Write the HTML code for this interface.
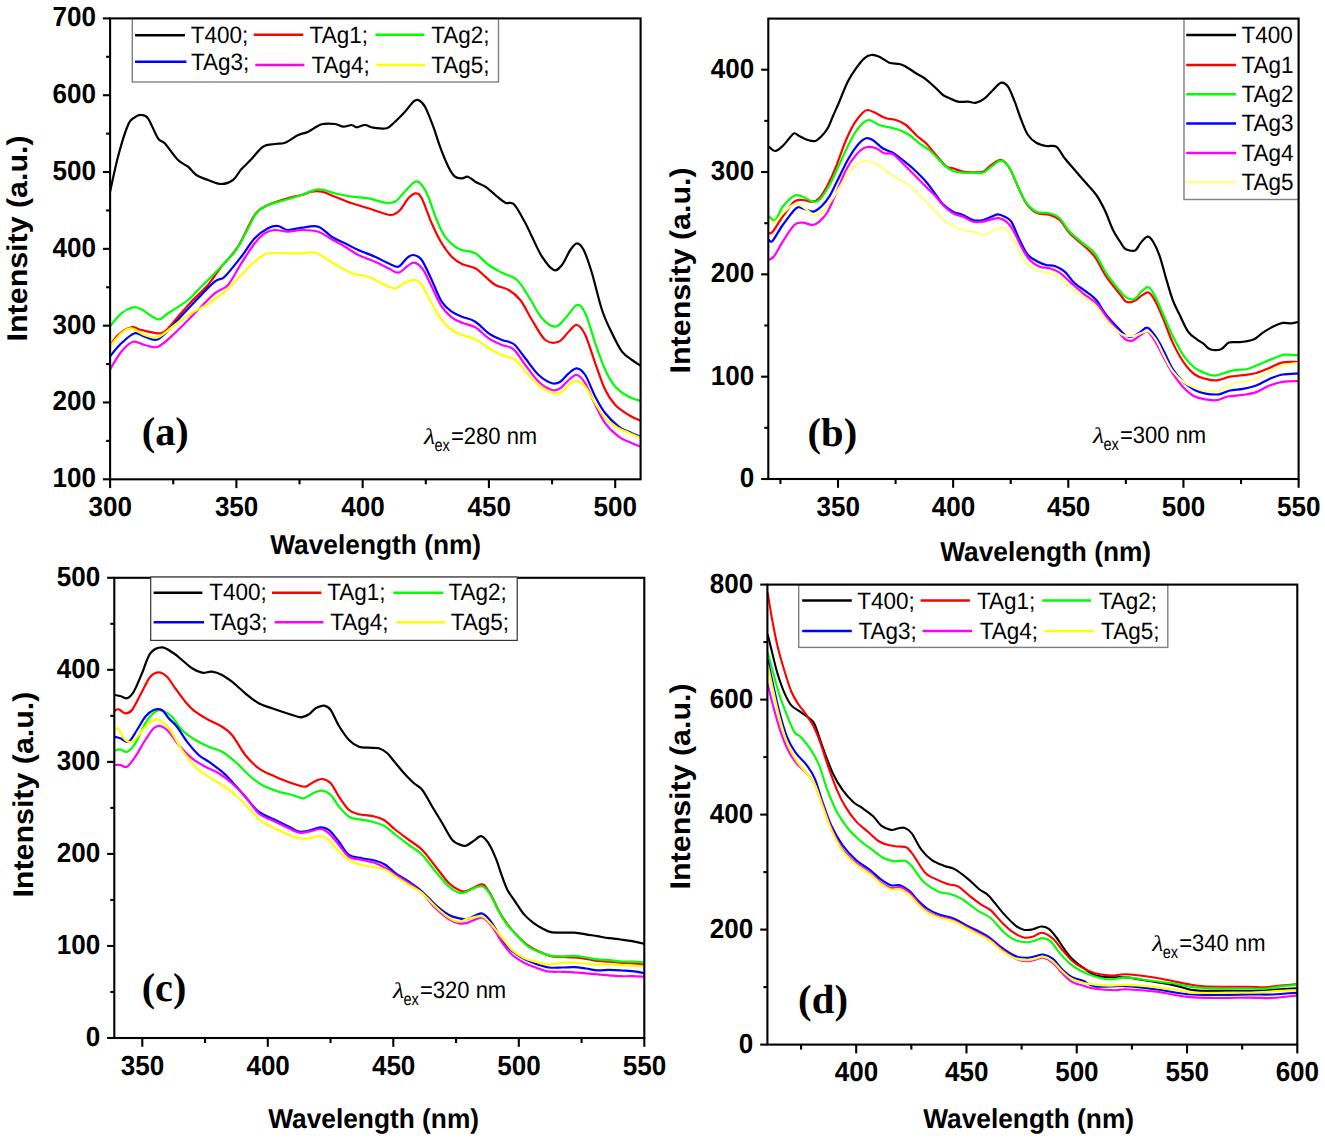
<!DOCTYPE html>
<html><head><meta charset="utf-8"><style>
html,body{margin:0;padding:0;background:#fff;width:1325px;height:1138px;overflow:hidden}
svg{display:block}
text{text-rendering:geometricPrecision}
</style></head><body>
<svg width="1325" height="1138" viewBox="0 0 1325 1138">
<rect width="1325" height="1138" fill="#fff"/>
<clipPath id="ca"><rect x="110.1" y="18.4" width="530.5" height="460.90000000000003"/></clipPath>
<g clip-path="url(#ca)" fill="none" stroke-linejoin="round" stroke-linecap="round">
<path d="M109.7,193.3 C111.1,187.2 115.0,168.1 118.0,156.7 C121.0,145.3 125.2,131.6 128.0,125.0 C130.8,118.4 132.5,119.0 134.7,117.3 C136.9,115.6 139.1,114.8 141.3,115.0 C143.5,115.2 145.2,114.4 148.0,118.3 C150.8,122.2 155.2,134.1 158.0,138.3 C160.8,142.5 161.4,139.7 164.7,143.3 C168.0,146.9 174.1,156.1 178.0,160.0 C181.9,163.9 184.9,164.2 188.0,166.7 C191.1,169.2 193.0,172.8 196.3,175.0 C199.6,177.2 203.8,178.5 208.0,180.0 C212.2,181.5 217.1,184.0 221.3,184.0 C225.5,184.0 229.7,182.4 233.0,180.0 C236.3,177.6 238.2,172.8 241.3,169.3 C244.4,165.9 247.7,163.1 251.3,159.3 C254.9,155.5 259.1,149.2 263.0,146.7 C266.9,144.1 271.0,144.7 274.7,144.0 C278.4,143.3 281.1,144.2 285.0,142.7 C288.9,141.2 294.4,136.8 298.3,135.0 C302.2,133.2 304.4,133.5 308.3,131.7 C312.2,129.9 317.2,125.6 321.7,124.3 C326.1,123.0 331.4,123.6 335.0,124.0 C338.6,124.4 340.5,126.5 343.3,126.7 C346.1,126.9 349.5,124.9 351.7,125.0 C353.9,125.1 354.5,127.3 356.7,127.3 C358.9,127.3 362.2,124.9 365.0,125.0 C367.8,125.1 369.7,127.2 373.3,127.7 C376.9,128.2 383.1,129.3 386.7,128.3 C390.3,127.3 391.9,124.5 395.0,121.7 C398.1,118.9 401.9,115.0 405.0,111.7 C408.1,108.4 411.1,103.7 413.3,101.7 C415.5,99.8 416.4,99.2 418.3,100.0 C420.2,100.8 422.5,102.2 425.0,106.7 C427.5,111.2 430.8,120.0 433.3,126.7 C435.8,133.4 437.5,140.0 440.0,146.7 C442.5,153.4 445.8,161.7 448.3,166.7 C450.8,171.7 452.7,174.8 455.0,176.7 C457.3,178.6 459.8,178.3 462.0,178.3 C464.2,178.3 465.8,176.1 468.0,176.7 C470.2,177.3 472.4,180.0 475.3,181.7 C478.2,183.4 482.0,184.5 485.3,186.7 C488.6,188.9 492.0,192.3 495.3,195.0 C498.6,197.7 502.2,201.2 505.3,202.7 C508.4,204.2 510.6,201.1 513.7,204.0 C516.8,206.9 520.7,214.6 523.7,220.0 C526.8,225.4 529.0,230.6 532.0,236.7 C535.0,242.8 538.4,251.1 542.0,256.7 C545.6,262.2 550.4,268.6 553.7,270.0 C557.0,271.4 559.2,268.3 562.0,265.0 C564.8,261.7 567.8,253.6 570.3,250.0 C572.8,246.4 574.8,243.3 577.0,243.3 C579.2,243.3 581.2,245.0 583.7,250.0 C586.2,255.0 589.0,263.3 592.0,273.3 C595.0,283.3 598.7,300.0 602.0,310.0 C605.3,320.0 608.7,326.4 612.0,333.3 C615.3,340.2 618.7,347.2 622.0,351.7 C625.3,356.1 628.8,357.6 632.0,360.0 C635.2,362.4 639.5,365.0 641.0,366.0" stroke="#000000" stroke-width="2.2"/>
<path d="M109.7,346.7 C111.1,344.8 114.4,338.2 118.0,335.0 C121.6,331.8 127.4,328.1 131.3,327.3 C135.2,326.5 136.9,329.0 141.3,330.0 C145.8,331.0 153.8,333.3 158.0,333.3 C162.2,333.3 163.0,332.8 166.3,330.0 C169.6,327.2 173.8,321.4 178.0,316.7 C182.2,312.0 186.3,307.0 191.3,301.7 C196.3,296.4 203.0,290.8 208.0,285.0 C213.0,279.2 216.3,273.1 221.3,266.7 C226.3,260.3 232.4,255.3 238.0,246.7 C243.6,238.1 249.7,221.9 254.7,215.0 C259.7,208.1 262.5,207.8 268.0,205.0 C273.5,202.2 282.1,200.0 287.7,198.3 C293.3,196.6 297.7,196.1 301.7,195.0 C305.7,193.9 308.4,192.2 311.7,191.7 C315.0,191.1 317.8,190.9 321.7,191.7 C325.6,192.5 330.0,194.8 335.0,196.7 C340.0,198.6 346.1,201.4 351.7,203.3 C357.2,205.2 363.3,206.7 368.3,208.3 C373.3,209.9 377.8,211.6 381.7,212.7 C385.6,213.8 388.6,215.4 391.7,215.0 C394.8,214.6 397.2,212.8 400.0,210.0 C402.8,207.2 405.7,201.1 408.3,198.3 C410.9,195.5 413.5,193.3 415.7,193.3 C417.9,193.3 419.0,193.3 421.7,198.3 C424.4,203.3 428.4,215.8 431.7,223.3 C435.0,230.8 438.4,237.7 441.7,243.3 C445.0,248.9 448.3,253.2 451.7,256.7 C455.1,260.1 458.1,262.1 462.0,264.0 C465.9,265.9 471.4,266.2 475.3,268.3 C479.2,270.4 482.0,273.9 485.3,276.7 C488.6,279.5 491.4,282.8 495.3,285.0 C499.2,287.2 504.5,287.5 508.7,290.0 C512.9,292.5 516.4,295.0 520.3,300.0 C524.2,305.0 527.8,313.3 532.0,320.0 C536.2,326.7 540.8,336.4 545.3,340.0 C549.8,343.6 554.8,343.1 558.7,341.7 C562.6,340.3 565.7,334.5 568.7,331.7 C571.8,328.9 574.2,324.4 577.0,325.0 C579.8,325.6 582.2,328.6 585.3,335.0 C588.3,341.4 592.0,354.1 595.3,363.3 C598.6,372.5 602.0,383.1 605.3,390.0 C608.6,396.9 611.4,400.8 615.3,405.0 C619.2,409.2 624.4,412.3 628.7,415.0 C633.0,417.7 639.0,420.0 641.0,421.0" stroke="#ff0000" stroke-width="2.2"/>
<path d="M109.7,326.7 C111.6,324.5 117.4,316.5 121.3,313.3 C125.2,310.1 129.7,308.0 133.0,307.3 C136.3,306.6 137.1,307.3 141.3,309.3 C145.5,311.3 153.6,318.6 158.0,319.3 C162.4,320.0 163.0,316.5 168.0,313.3 C173.0,310.1 183.0,303.9 188.0,300.0 C193.0,296.1 193.6,294.4 198.0,290.0 C202.4,285.6 208.6,279.7 214.7,273.3 C220.8,266.9 229.7,258.1 234.7,251.7 C239.7,245.3 241.1,241.4 244.7,235.0 C248.3,228.6 252.4,218.3 256.3,213.3 C260.2,208.3 262.8,207.3 268.0,205.0 C273.2,202.7 282.1,201.0 287.7,199.3 C293.3,197.6 296.6,196.7 301.7,195.0 C306.8,193.3 312.8,189.6 318.3,189.3 C323.9,189.0 329.4,192.1 335.0,193.3 C340.6,194.5 346.1,195.9 351.7,196.7 C357.2,197.5 362.8,197.3 368.3,198.3 C373.9,199.3 380.6,202.1 385.0,202.7 C389.4,203.3 391.9,203.3 395.0,201.7 C398.1,200.1 400.0,196.6 403.3,193.3 C406.6,190.0 411.9,183.1 415.0,181.7 C418.1,180.3 419.5,182.5 421.7,185.0 C423.9,187.5 425.8,190.9 428.3,196.7 C430.8,202.5 433.9,213.3 436.7,220.0 C439.5,226.7 441.9,232.2 445.0,236.7 C448.1,241.1 452.2,244.5 455.0,246.7 C457.8,248.9 458.6,248.9 462.0,250.0 C465.4,251.1 470.9,250.8 475.3,253.3 C479.8,255.8 484.2,261.8 488.7,265.0 C493.1,268.2 497.3,270.2 502.0,272.7 C506.7,275.2 512.5,276.0 517.0,280.0 C521.5,284.0 524.5,290.3 528.7,296.7 C532.9,303.1 537.6,313.3 542.0,318.3 C546.4,323.3 551.4,326.7 555.3,326.7 C559.2,326.7 561.7,321.9 565.3,318.3 C568.9,314.7 573.7,305.8 577.0,305.0 C580.3,304.2 582.2,306.9 585.3,313.3 C588.3,319.7 592.0,333.9 595.3,343.3 C598.6,352.8 602.0,362.8 605.3,370.0 C608.6,377.2 611.4,382.2 615.3,386.7 C619.2,391.1 624.4,394.3 628.7,396.7 C633.0,399.1 639.0,400.3 641.0,401.0" stroke="#00ff00" stroke-width="2.2"/>
<path d="M109.7,356.7 C111.6,354.5 117.1,347.2 121.3,343.3 C125.5,339.4 130.8,334.4 134.7,333.3 C138.6,332.2 140.8,335.7 144.7,336.7 C148.6,337.7 153.0,341.5 158.0,339.3 C163.0,337.1 168.6,329.6 174.7,323.3 C180.8,317.0 188.0,308.6 194.7,301.7 C201.4,294.8 209.7,285.9 214.7,281.7 C219.7,277.5 220.3,280.9 224.7,276.7 C229.1,272.5 236.3,263.1 241.3,256.7 C246.3,250.3 250.2,243.0 254.7,238.3 C259.1,233.6 264.1,230.4 268.0,228.3 C271.9,226.2 274.7,225.7 278.0,226.0 C281.3,226.3 283.8,229.7 287.7,230.0 C291.6,230.3 296.6,228.2 301.7,227.7 C306.8,227.1 313.3,225.2 318.3,226.7 C323.3,228.2 327.2,233.9 331.7,236.7 C336.1,239.5 340.6,241.1 345.0,243.3 C349.4,245.5 353.3,247.8 358.3,250.0 C363.3,252.2 370.0,254.5 375.0,256.7 C380.0,258.9 384.4,261.6 388.3,263.3 C392.2,265.0 395.2,267.5 398.3,266.7 C401.4,265.9 404.2,260.2 406.7,258.3 C409.2,256.4 410.8,254.7 413.3,255.0 C415.8,255.3 418.6,255.8 421.7,260.0 C424.8,264.2 428.4,273.1 431.7,280.0 C435.0,286.9 438.4,296.4 441.7,301.7 C445.0,307.0 448.3,309.2 451.7,311.7 C455.1,314.2 458.1,315.0 462.0,316.7 C465.9,318.4 470.9,318.9 475.3,321.7 C479.8,324.5 484.2,330.2 488.7,333.3 C493.1,336.4 497.8,338.2 502.0,340.0 C506.2,341.8 509.8,340.9 513.7,344.0 C517.6,347.1 521.1,353.1 525.3,358.3 C529.5,363.5 534.2,370.8 538.7,375.0 C543.2,379.2 548.4,382.2 552.0,383.3 C555.6,384.4 557.5,383.4 560.3,381.7 C563.1,380.0 565.9,375.5 568.7,373.3 C571.5,371.1 574.2,368.0 577.0,368.3 C579.8,368.6 582.2,370.3 585.3,375.0 C588.3,379.7 592.0,390.3 595.3,396.7 C598.6,403.1 601.4,408.3 605.3,413.3 C609.2,418.3 614.8,423.6 618.7,426.7 C622.6,429.8 625.0,430.0 628.7,431.7 C632.4,433.4 639.0,436.1 641.0,437.0" stroke="#0000ff" stroke-width="2.2"/>
<path d="M109.7,370.0 C111.6,366.9 117.4,356.4 121.3,351.7 C125.2,347.0 129.1,342.8 133.0,341.7 C136.9,340.6 140.5,344.2 144.7,345.0 C148.9,345.8 153.0,348.6 158.0,346.7 C163.0,344.8 168.6,338.9 174.7,333.3 C180.8,327.7 188.0,320.0 194.7,313.3 C201.4,306.6 209.1,298.0 214.7,293.3 C220.2,288.6 223.6,290.0 228.0,285.0 C232.4,280.0 236.9,270.2 241.3,263.3 C245.8,256.4 250.8,248.3 254.7,243.3 C258.6,238.3 261.4,235.5 264.7,233.3 C268.0,231.1 270.9,230.3 274.7,230.0 C278.5,229.7 283.2,231.7 287.7,231.7 C292.2,231.7 296.6,230.0 301.7,230.0 C306.8,230.0 313.3,230.1 318.3,231.7 C323.3,233.2 327.2,236.8 331.7,239.3 C336.1,241.8 340.6,244.1 345.0,246.7 C349.4,249.3 353.3,252.5 358.3,255.0 C363.3,257.5 370.0,259.5 375.0,261.7 C380.0,263.9 384.4,266.5 388.3,268.3 C392.2,270.1 395.2,273.0 398.3,272.7 C401.4,272.4 404.0,268.4 406.7,266.7 C409.4,265.0 411.5,262.1 414.3,262.7 C417.1,263.2 420.4,266.0 423.3,270.0 C426.2,274.0 428.6,280.6 431.7,286.7 C434.8,292.8 438.4,301.6 441.7,306.7 C445.0,311.8 448.3,314.6 451.7,317.3 C455.1,320.0 458.1,321.0 462.0,322.7 C465.9,324.4 470.9,324.7 475.3,327.3 C479.8,329.9 484.2,335.4 488.7,338.3 C493.1,341.2 497.8,343.2 502.0,345.0 C506.2,346.8 509.8,346.0 513.7,349.3 C517.6,352.6 521.1,359.6 525.3,365.0 C529.5,370.4 534.2,377.5 538.7,381.7 C543.2,385.9 548.4,388.9 552.0,390.0 C555.6,391.1 557.5,390.0 560.3,388.3 C563.1,386.6 565.9,382.2 568.7,380.0 C571.5,377.8 574.2,374.4 577.0,375.0 C579.8,375.6 582.2,378.3 585.3,383.3 C588.3,388.3 592.0,398.3 595.3,405.0 C598.6,411.7 601.4,418.0 605.3,423.3 C609.2,428.6 614.8,433.6 618.7,436.7 C622.6,439.8 625.0,440.0 628.7,441.7 C632.4,443.4 639.0,446.1 641.0,447.0" stroke="#ff00ff" stroke-width="2.2"/>
<path d="M109.7,346.7 C111.6,344.5 117.7,336.4 121.3,333.3 C124.9,330.2 127.4,328.0 131.3,328.3 C135.2,328.6 140.2,333.5 144.7,335.0 C149.1,336.5 153.0,339.0 158.0,337.3 C163.0,335.6 169.1,329.0 174.7,325.0 C180.2,321.0 185.8,316.8 191.3,313.3 C196.9,309.8 202.4,307.6 208.0,304.0 C213.6,300.4 219.1,296.5 224.7,291.7 C230.2,286.9 236.3,280.0 241.3,275.0 C246.3,270.0 250.2,265.3 254.7,261.7 C259.1,258.1 262.5,254.7 268.0,253.3 C273.5,251.9 282.1,253.3 287.7,253.3 C293.3,253.3 297.1,253.4 301.7,253.3 C306.2,253.2 310.6,251.6 315.0,252.7 C319.4,253.8 323.9,257.4 328.3,260.0 C332.8,262.6 337.2,265.9 341.7,268.3 C346.1,270.7 350.6,272.9 355.0,274.3 C359.4,275.7 363.9,275.2 368.3,276.7 C372.8,278.2 377.2,281.4 381.7,283.3 C386.1,285.2 391.1,288.4 395.0,288.3 C398.9,288.2 401.7,284.1 405.0,282.7 C408.3,281.3 412.2,279.6 415.0,280.0 C417.8,280.4 418.9,281.1 421.7,285.0 C424.5,288.9 428.4,297.5 431.7,303.3 C435.0,309.1 438.4,315.6 441.7,320.0 C445.0,324.4 448.3,327.5 451.7,330.0 C455.1,332.5 458.1,333.4 462.0,335.0 C465.9,336.6 470.9,337.1 475.3,339.3 C479.8,341.5 484.2,345.7 488.7,348.3 C493.1,350.9 497.6,353.1 502.0,355.0 C506.4,356.9 511.1,356.9 515.3,360.0 C519.5,363.1 522.8,368.9 527.0,373.3 C531.2,377.8 535.8,383.4 540.3,386.7 C544.8,390.0 550.1,392.5 553.7,393.3 C557.3,394.1 559.2,393.4 562.0,391.7 C564.8,390.0 567.8,385.1 570.3,383.3 C572.8,381.5 574.5,380.4 577.0,381.0 C579.5,381.6 582.2,383.0 585.3,386.7 C588.3,390.4 592.0,398.0 595.3,403.3 C598.6,408.6 601.4,414.1 605.3,418.3 C609.2,422.5 614.8,425.9 618.7,428.3 C622.6,430.7 625.0,431.1 628.7,432.7 C632.4,434.3 639.0,437.1 641.0,438.0" stroke="#ffff00" stroke-width="2.2"/>
</g>
<line x1="110.10" y1="479.30" x2="110.10" y2="488.10" stroke="#000" stroke-width="2.1" stroke-linecap="butt"/>
<text transform="translate(88.61 515.90) scale(0.94 1)" font-family="Liberation Sans" font-size="27.7" font-weight="bold">300</text>
<line x1="236.38" y1="479.30" x2="236.38" y2="488.10" stroke="#000" stroke-width="2.1" stroke-linecap="butt"/>
<text transform="translate(214.89 515.90) scale(0.94 1)" font-family="Liberation Sans" font-size="27.7" font-weight="bold">350</text>
<line x1="362.65" y1="479.30" x2="362.65" y2="488.10" stroke="#000" stroke-width="2.1" stroke-linecap="butt"/>
<text transform="translate(341.27 515.90) scale(0.94 1)" font-family="Liberation Sans" font-size="27.7" font-weight="bold">400</text>
<line x1="488.92" y1="479.30" x2="488.92" y2="488.10" stroke="#000" stroke-width="2.1" stroke-linecap="butt"/>
<text transform="translate(467.54 515.90) scale(0.94 1)" font-family="Liberation Sans" font-size="27.7" font-weight="bold">450</text>
<line x1="615.20" y1="479.30" x2="615.20" y2="488.10" stroke="#000" stroke-width="2.1" stroke-linecap="butt"/>
<text transform="translate(593.61 515.90) scale(0.94 1)" font-family="Liberation Sans" font-size="27.7" font-weight="bold">500</text>
<line x1="173.24" y1="479.30" x2="173.24" y2="484.30" stroke="#000" stroke-width="2.1" stroke-linecap="butt"/>
<line x1="299.51" y1="479.30" x2="299.51" y2="484.30" stroke="#000" stroke-width="2.1" stroke-linecap="butt"/>
<line x1="425.79" y1="479.30" x2="425.79" y2="484.30" stroke="#000" stroke-width="2.1" stroke-linecap="butt"/>
<line x1="552.06" y1="479.30" x2="552.06" y2="484.30" stroke="#000" stroke-width="2.1" stroke-linecap="butt"/>
<line x1="102.90" y1="479.30" x2="110.10" y2="479.30" stroke="#000" stroke-width="2.1" stroke-linecap="butt"/>
<text transform="translate(52.52 487.30) scale(0.94 1)" font-family="Liberation Sans" font-size="27.7" font-weight="bold">100</text>
<line x1="102.90" y1="402.48" x2="110.10" y2="402.48" stroke="#000" stroke-width="2.1" stroke-linecap="butt"/>
<text transform="translate(52.52 410.48) scale(0.94 1)" font-family="Liberation Sans" font-size="27.7" font-weight="bold">200</text>
<line x1="102.90" y1="325.67" x2="110.10" y2="325.67" stroke="#000" stroke-width="2.1" stroke-linecap="butt"/>
<text transform="translate(52.52 333.67) scale(0.94 1)" font-family="Liberation Sans" font-size="27.7" font-weight="bold">300</text>
<line x1="102.90" y1="248.85" x2="110.10" y2="248.85" stroke="#000" stroke-width="2.1" stroke-linecap="butt"/>
<text transform="translate(52.52 256.85) scale(0.94 1)" font-family="Liberation Sans" font-size="27.7" font-weight="bold">400</text>
<line x1="102.90" y1="172.03" x2="110.10" y2="172.03" stroke="#000" stroke-width="2.1" stroke-linecap="butt"/>
<text transform="translate(52.52 180.03) scale(0.94 1)" font-family="Liberation Sans" font-size="27.7" font-weight="bold">500</text>
<line x1="102.90" y1="95.22" x2="110.10" y2="95.22" stroke="#000" stroke-width="2.1" stroke-linecap="butt"/>
<text transform="translate(52.52 103.22) scale(0.94 1)" font-family="Liberation Sans" font-size="27.7" font-weight="bold">600</text>
<line x1="102.90" y1="18.40" x2="110.10" y2="18.40" stroke="#000" stroke-width="2.1" stroke-linecap="butt"/>
<text transform="translate(52.52 26.40) scale(0.94 1)" font-family="Liberation Sans" font-size="27.7" font-weight="bold">700</text>
<line x1="106.10" y1="440.89" x2="110.10" y2="440.89" stroke="#000" stroke-width="2.1" stroke-linecap="butt"/>
<line x1="106.10" y1="364.08" x2="110.10" y2="364.08" stroke="#000" stroke-width="2.1" stroke-linecap="butt"/>
<line x1="106.10" y1="287.26" x2="110.10" y2="287.26" stroke="#000" stroke-width="2.1" stroke-linecap="butt"/>
<line x1="106.10" y1="210.44" x2="110.10" y2="210.44" stroke="#000" stroke-width="2.1" stroke-linecap="butt"/>
<line x1="106.10" y1="133.62" x2="110.10" y2="133.62" stroke="#000" stroke-width="2.1" stroke-linecap="butt"/>
<line x1="106.10" y1="56.81" x2="110.10" y2="56.81" stroke="#000" stroke-width="2.1" stroke-linecap="butt"/>
<rect x="132.3" y="18.4" width="366.2" height="63.6" fill="#fff" stroke="#808080" stroke-width="1.4"/>
<rect x="110.1" y="18.4" width="530.5" height="460.90000000000003" fill="none" stroke="#000" stroke-width="2.1"/>
<line x1="135.00" y1="35.20" x2="185.00" y2="35.20" stroke="#000000" stroke-width="2.5" stroke-linecap="butt"/>
<text transform="translate(190.79 43.20) scale(0.945 1)" font-family="Liberation Sans" font-size="23.8" font-weight="normal">T400;</text>
<line x1="253.70" y1="34.80" x2="303.20" y2="34.80" stroke="#ff0000" stroke-width="2.5" stroke-linecap="butt"/>
<text transform="translate(309.59 43.20) scale(0.945 1)" font-family="Liberation Sans" font-size="23.8" font-weight="normal">TAg1;</text>
<line x1="375.40" y1="34.80" x2="424.50" y2="34.80" stroke="#00ff00" stroke-width="2.5" stroke-linecap="butt"/>
<text transform="translate(431.19 43.20) scale(0.945 1)" font-family="Liberation Sans" font-size="23.8" font-weight="normal">TAg2;</text>
<line x1="135.00" y1="61.70" x2="186.40" y2="61.70" stroke="#0000ff" stroke-width="2.5" stroke-linecap="butt"/>
<text transform="translate(190.99 69.60) scale(0.945 1)" font-family="Liberation Sans" font-size="23.8" font-weight="normal">TAg3;</text>
<line x1="255.30" y1="65.10" x2="304.40" y2="65.10" stroke="#ff00ff" stroke-width="2.5" stroke-linecap="butt"/>
<text transform="translate(311.49 73.00) scale(0.945 1)" font-family="Liberation Sans" font-size="23.8" font-weight="normal">TAg4;</text>
<line x1="376.40" y1="65.10" x2="425.40" y2="65.10" stroke="#ffff00" stroke-width="2.5" stroke-linecap="butt"/>
<text transform="translate(431.29 73.00) scale(0.945 1)" font-family="Liberation Sans" font-size="23.8" font-weight="normal">TAg5;</text>
<text transform="translate(270.27 554.00) scale(0.96 1)" font-family="Liberation Sans" font-size="27.4" font-weight="bold">Wavelength (nm)</text>
<text transform="translate(26.90 238.40) scale(0.94 1) rotate(-90)" font-family="Liberation Sans" font-size="30.4" font-weight="bold" text-anchor="middle">Intensity (a.u.)</text>
<text transform="translate(141.72 444.60) scale(1.0 1)" font-family="Liberation Serif" font-size="40.4" font-weight="bold">(a)</text>
<text transform="translate(424.03 444.10) scale(1.15 1)" font-family="Liberation Serif" font-size="22.5" font-weight="normal" font-style="italic">λ</text>
<text transform="translate(434.38 450.70) scale(0.83 1)" font-family="Liberation Sans" font-size="17.5" font-weight="normal">ex</text>
<text transform="translate(450.93 444.10) scale(0.925 1)" font-family="Liberation Sans" font-size="23.8" font-weight="normal">=280 nm</text>
<clipPath id="cb"><rect x="768.3" y="18.6" width="530.3" height="460.4"/></clipPath>
<g clip-path="url(#cb)" fill="none" stroke-linejoin="round" stroke-linecap="round">
<path d="M768.7,146.7 C769.8,147.4 773.0,151.1 775.3,151.0 C777.6,150.9 780.4,148.1 782.7,146.0 C785.0,143.9 787.4,140.4 789.3,138.3 C791.2,136.2 792.6,133.7 794.3,133.3 C796.0,132.9 797.1,134.9 799.3,136.0 C801.5,137.1 805.0,139.2 807.7,140.0 C810.4,140.8 813.1,141.6 815.3,141.0 C817.5,140.4 818.9,138.8 821.0,136.7 C823.1,134.6 825.8,131.6 827.7,128.3 C829.7,125.0 830.8,121.1 832.7,116.7 C834.6,112.3 836.8,107.5 839.3,101.7 C841.8,95.9 844.9,87.3 847.7,81.7 C850.5,76.1 853.2,72.2 856.0,68.3 C858.8,64.4 861.8,60.5 864.3,58.3 C866.8,56.1 868.5,55.3 871.0,55.0 C873.5,54.7 876.2,55.4 879.3,56.7 C882.3,58.0 886.0,61.5 889.3,62.7 C892.6,63.9 896.5,63.3 899.3,64.0 C902.1,64.7 903.2,65.2 906.0,66.7 C908.8,68.2 912.7,71.2 916.0,73.3 C919.3,75.4 922.7,76.8 926.0,79.3 C929.3,81.8 933.2,85.7 936.0,88.3 C938.8,90.9 940.7,93.3 943.0,95.0 C945.3,96.7 947.2,97.2 949.7,98.3 C952.2,99.4 955.0,101.1 958.0,101.7 C961.0,102.3 965.0,101.5 968.0,101.7 C971.0,101.9 973.5,103.3 976.3,102.7 C979.1,102.1 981.9,100.4 984.7,98.3 C987.5,96.2 990.2,92.6 993.0,90.0 C995.8,87.4 998.8,83.2 1001.3,82.7 C1003.8,82.2 1005.8,83.5 1008.0,86.7 C1010.2,89.9 1012.5,96.2 1014.7,101.7 C1016.9,107.2 1019.1,114.5 1021.3,120.0 C1023.5,125.5 1025.5,131.2 1028.0,135.0 C1030.5,138.8 1033.2,140.9 1036.3,142.7 C1039.3,144.5 1043.0,145.3 1046.3,146.0 C1049.6,146.7 1053.2,144.6 1056.3,146.7 C1059.4,148.8 1061.6,154.4 1064.7,158.3 C1067.8,162.2 1071.1,165.8 1074.7,170.0 C1078.3,174.2 1082.7,179.1 1086.3,183.3 C1089.9,187.5 1093.2,190.6 1096.3,195.0 C1099.4,199.4 1101.9,204.2 1104.7,210.0 C1107.5,215.8 1110.5,224.8 1113.0,230.0 C1115.5,235.2 1118.1,238.5 1120.0,241.5 C1121.9,244.5 1122.9,246.6 1124.4,248.1 C1125.9,249.6 1127.0,249.9 1128.8,250.3 C1130.6,250.7 1133.4,251.6 1135.4,250.3 C1137.4,249.0 1138.9,244.9 1140.9,242.6 C1142.9,240.3 1145.5,236.9 1147.5,236.7 C1149.5,236.5 1151.0,238.3 1153.0,241.5 C1155.0,244.7 1157.4,249.6 1159.6,255.8 C1161.8,262.0 1164.0,271.6 1166.2,278.9 C1168.4,286.2 1170.5,293.9 1172.7,299.8 C1174.9,305.7 1176.7,308.8 1179.3,314.1 C1181.9,319.4 1185.2,327.4 1188.1,331.6 C1191.0,335.8 1194.3,337.3 1196.9,339.3 C1199.5,341.3 1201.3,342.1 1203.5,343.7 C1205.7,345.3 1207.2,348.3 1210.1,349.2 C1213.0,350.1 1218.0,350.3 1221.1,349.2 C1224.2,348.1 1225.9,343.8 1228.8,342.6 C1231.7,341.4 1236.0,342.4 1238.7,342.2 C1241.5,342.0 1242.7,342.0 1245.3,341.5 C1247.9,341.0 1251.2,340.8 1254.1,339.3 C1257.0,337.8 1259.6,334.9 1262.9,332.7 C1266.2,330.5 1270.5,327.8 1273.8,326.2 C1277.1,324.6 1279.7,323.4 1282.6,322.9 C1285.5,322.4 1288.7,323.5 1291.4,323.3 C1294.1,323.1 1297.7,322.1 1299.0,321.8" stroke="#000000" stroke-width="2.2"/>
<path d="M768.7,233.3 C769.4,233.0 770.4,234.5 772.7,231.7 C775.0,228.9 779.1,221.7 782.7,216.7 C786.3,211.7 791.0,204.5 794.3,201.7 C797.6,198.9 799.6,200.0 802.7,200.0 C805.8,200.0 809.9,202.0 812.7,201.7 C815.5,201.4 816.8,201.1 819.3,198.3 C821.8,195.5 824.9,190.3 827.7,185.0 C830.5,179.7 833.0,174.2 836.0,166.7 C839.0,159.2 843.0,147.2 846.0,140.0 C849.0,132.8 851.5,127.8 854.3,123.3 C857.1,118.8 860.5,114.9 862.7,112.7 C864.9,110.5 865.5,109.9 867.7,110.0 C869.9,110.1 873.0,111.9 876.0,113.3 C879.0,114.7 882.7,117.2 886.0,118.3 C889.3,119.4 892.7,118.9 896.0,120.0 C899.3,121.1 902.7,122.5 906.0,125.0 C909.3,127.5 912.7,131.9 916.0,135.0 C919.3,138.1 922.7,140.0 926.0,143.3 C929.3,146.6 932.7,151.2 936.0,155.0 C939.3,158.8 942.9,163.8 945.7,166.0 C948.5,168.2 950.1,167.4 953.0,168.3 C955.9,169.2 959.7,171.0 963.0,171.7 C966.3,172.4 969.7,172.3 973.0,172.3 C976.3,172.3 980.0,172.9 983.0,171.7 C986.0,170.5 988.2,166.9 991.3,165.0 C994.3,163.1 998.2,159.4 1001.3,160.0 C1004.4,160.6 1006.9,163.9 1009.7,168.3 C1012.5,172.8 1015.2,180.9 1018.0,186.7 C1020.8,192.5 1023.2,199.0 1026.3,203.3 C1029.3,207.6 1032.4,210.8 1036.3,212.7 C1040.2,214.6 1045.8,213.8 1049.7,215.0 C1053.6,216.2 1056.4,216.9 1059.7,220.0 C1063.0,223.1 1065.8,229.1 1069.7,233.3 C1073.6,237.5 1078.8,241.1 1083.0,245.0 C1087.2,248.9 1090.8,251.4 1094.7,256.7 C1098.6,262.0 1102.1,270.4 1106.3,276.7 C1110.5,283.0 1116.6,290.1 1120.0,294.3 C1123.4,298.5 1124.2,300.9 1126.6,302.0 C1129.0,303.1 1131.7,302.0 1134.3,300.9 C1136.9,299.8 1139.6,296.8 1142.0,295.4 C1144.4,294.0 1146.4,291.6 1148.6,292.5 C1150.8,293.4 1152.6,296.2 1155.2,300.9 C1157.8,305.6 1161.1,313.8 1164.0,320.7 C1166.9,327.6 1169.4,335.7 1172.7,342.6 C1176.0,349.6 1180.0,357.1 1183.7,362.4 C1187.4,367.7 1191.0,371.8 1194.7,374.5 C1198.4,377.2 1202.0,377.9 1205.7,378.9 C1209.4,379.9 1212.7,380.8 1216.7,380.4 C1220.7,380.0 1225.5,377.6 1229.9,376.7 C1234.3,375.8 1238.7,375.8 1243.1,375.2 C1247.5,374.6 1251.9,374.2 1256.3,373.0 C1260.7,371.8 1265.1,369.7 1269.5,367.9 C1273.9,366.1 1277.7,363.4 1282.6,362.4 C1287.5,361.4 1296.3,362.1 1299.0,362.0" stroke="#ff0000" stroke-width="2.2"/>
<path d="M768.7,216.0 C769.8,216.7 773.0,221.6 775.3,220.0 C777.6,218.4 779.5,210.8 782.7,206.7 C785.9,202.6 791.0,197.4 794.3,195.7 C797.6,194.0 799.6,195.7 802.7,196.7 C805.8,197.7 809.9,201.1 812.7,201.7 C815.5,202.2 816.8,202.2 819.3,200.0 C821.8,197.8 824.9,193.0 827.7,188.3 C830.5,183.6 833.0,178.1 836.0,171.7 C839.0,165.3 843.0,156.3 846.0,150.0 C849.0,143.7 851.5,138.4 854.3,134.0 C857.1,129.6 860.2,125.6 862.7,123.3 C865.2,121.0 866.5,119.7 869.3,120.0 C872.1,120.3 876.0,123.8 879.3,125.0 C882.6,126.2 886.0,126.5 889.3,127.3 C892.6,128.1 896.0,128.7 899.3,130.0 C902.6,131.3 906.0,132.8 909.3,135.0 C912.6,137.2 916.0,140.8 919.3,143.3 C922.6,145.8 926.0,147.2 929.3,150.0 C932.6,152.8 936.6,157.2 939.3,160.0 C942.0,162.8 943.4,164.7 945.7,166.5 C948.0,168.3 950.1,170.0 953.0,171.0 C955.9,172.0 959.7,172.4 963.0,172.7 C966.3,173.0 969.7,172.7 973.0,172.7 C976.3,172.7 980.0,173.7 983.0,172.7 C986.0,171.7 988.2,168.7 991.3,166.7 C994.3,164.7 998.2,160.4 1001.3,160.7 C1004.4,161.0 1006.9,164.0 1009.7,168.3 C1012.5,172.6 1015.2,181.0 1018.0,186.7 C1020.8,192.4 1023.2,198.5 1026.3,202.7 C1029.3,206.9 1032.4,209.9 1036.3,211.7 C1040.2,213.5 1045.8,212.2 1049.7,213.3 C1053.6,214.4 1056.4,215.2 1059.7,218.3 C1063.0,221.4 1065.8,227.5 1069.7,231.7 C1073.6,235.9 1078.8,239.7 1083.0,243.3 C1087.2,246.9 1090.8,248.3 1094.7,253.3 C1098.6,258.3 1102.1,267.0 1106.3,273.3 C1110.5,279.6 1116.6,286.9 1120.0,291.0 C1123.4,295.1 1124.2,296.2 1126.6,297.6 C1129.0,299.0 1131.7,300.2 1134.3,299.1 C1136.9,298.0 1139.6,293.0 1142.0,291.0 C1144.4,289.0 1146.4,286.4 1148.6,287.3 C1150.8,288.2 1152.6,291.7 1155.2,296.5 C1157.8,301.3 1161.1,309.7 1164.0,316.3 C1166.9,322.9 1169.4,329.4 1172.7,336.0 C1176.0,342.6 1180.0,350.5 1183.7,355.8 C1187.4,361.1 1191.0,365.0 1194.7,367.9 C1198.4,370.8 1202.4,372.1 1205.7,373.4 C1209.0,374.7 1211.6,375.6 1214.5,375.6 C1217.4,375.6 1220.0,374.3 1223.3,373.4 C1226.6,372.5 1230.3,370.8 1234.3,370.1 C1238.3,369.4 1243.5,369.9 1247.5,369.0 C1251.5,368.1 1254.5,366.2 1258.5,364.6 C1262.5,363.0 1267.2,360.8 1271.6,359.1 C1276.0,357.5 1280.2,355.3 1284.8,354.7 C1289.4,354.1 1296.6,355.3 1299.0,355.4" stroke="#00ff00" stroke-width="2.2"/>
<path d="M768.7,240.0 C769.4,240.1 770.4,243.2 772.7,240.7 C775.0,238.2 778.8,230.4 782.7,225.0 C786.6,219.6 792.7,211.1 796.0,208.3 C799.3,205.5 799.9,207.7 802.7,208.3 C805.5,208.9 809.7,212.0 812.7,211.7 C815.8,211.4 818.2,209.2 821.0,206.7 C823.8,204.2 826.5,201.1 829.3,196.7 C832.1,192.2 834.6,186.1 837.7,180.0 C840.8,173.9 844.4,165.8 847.7,160.0 C851.0,154.2 854.7,148.6 857.7,145.0 C860.8,141.4 863.5,139.1 866.0,138.3 C868.5,137.5 869.9,138.3 872.7,140.0 C875.5,141.7 879.4,146.2 882.7,148.3 C886.0,150.4 889.4,150.8 892.7,152.7 C896.0,154.6 899.4,157.4 902.7,160.0 C906.0,162.6 908.8,164.7 912.7,168.3 C916.6,171.9 922.1,177.2 926.0,181.7 C929.9,186.1 933.2,191.2 936.0,195.0 C938.8,198.8 940.2,201.5 943.0,204.3 C945.8,207.1 949.7,209.9 953.0,211.7 C956.3,213.5 959.7,213.6 963.0,215.0 C966.3,216.4 969.7,219.2 973.0,220.0 C976.3,220.8 980.0,220.6 983.0,220.0 C986.0,219.4 988.8,217.6 991.3,216.7 C993.8,215.8 995.8,214.3 998.0,214.3 C1000.2,214.3 1002.5,215.5 1004.7,216.7 C1006.9,217.9 1008.8,217.8 1011.3,221.7 C1013.8,225.6 1016.9,234.4 1019.7,240.0 C1022.5,245.6 1025.0,251.4 1028.0,255.0 C1031.0,258.6 1035.0,260.0 1038.0,261.7 C1041.0,263.4 1043.5,264.3 1046.3,265.0 C1049.1,265.7 1051.6,264.9 1054.7,266.0 C1057.8,267.1 1061.4,268.8 1064.7,271.7 C1068.0,274.6 1071.1,280.0 1074.7,283.3 C1078.3,286.6 1082.7,288.9 1086.3,291.7 C1089.9,294.5 1093.0,296.1 1096.3,300.0 C1099.6,303.9 1102.3,310.0 1106.3,315.0 C1110.2,320.0 1116.6,326.6 1120.0,330.1 C1123.4,333.6 1124.4,334.9 1126.6,336.0 C1128.8,337.1 1130.8,337.2 1133.2,336.5 C1135.6,335.8 1138.5,333.1 1140.9,331.6 C1143.3,330.1 1145.1,327.0 1147.5,327.7 C1149.9,328.4 1152.5,332.1 1155.2,336.0 C1158.0,339.9 1161.1,345.9 1164.0,351.4 C1166.9,356.9 1169.4,363.9 1172.7,369.0 C1176.0,374.1 1180.0,378.7 1183.7,382.2 C1187.4,385.7 1191.0,388.0 1194.7,389.9 C1198.4,391.8 1201.7,392.9 1205.7,393.6 C1209.7,394.3 1214.9,394.8 1218.9,394.3 C1222.9,393.8 1225.9,391.4 1229.9,390.5 C1233.9,389.6 1238.7,389.6 1243.1,388.8 C1247.5,388.0 1251.9,387.1 1256.3,385.5 C1260.7,383.9 1265.1,380.7 1269.5,378.9 C1273.9,377.1 1277.7,375.4 1282.6,374.5 C1287.5,373.6 1296.3,373.6 1299.0,373.4" stroke="#0000ff" stroke-width="2.2"/>
<path d="M768.7,260.0 C769.6,259.3 772.0,259.1 774.3,256.0 C776.6,252.9 779.4,246.9 782.7,241.7 C786.0,236.5 791.0,228.2 794.3,225.0 C797.6,221.8 799.6,222.7 802.7,222.7 C805.8,222.7 809.9,225.2 812.7,225.0 C815.5,224.8 816.8,223.9 819.3,221.7 C821.8,219.5 824.9,216.4 827.7,211.7 C830.5,207.0 833.0,200.2 836.0,193.3 C839.0,186.4 842.7,176.4 846.0,170.0 C849.3,163.6 852.7,158.8 856.0,155.0 C859.3,151.2 862.7,148.4 866.0,147.3 C869.3,146.2 873.0,147.3 876.0,148.3 C879.0,149.3 881.5,152.4 884.3,153.3 C887.1,154.2 889.6,152.3 892.7,154.0 C895.8,155.7 899.4,160.1 902.7,163.3 C906.0,166.5 908.8,169.4 912.7,173.3 C916.6,177.2 922.1,182.8 926.0,186.7 C929.9,190.6 933.2,193.6 936.0,196.7 C938.8,199.8 940.2,202.2 943.0,205.0 C945.8,207.8 949.7,211.4 953.0,213.3 C956.3,215.2 959.7,215.3 963.0,216.7 C966.3,218.1 969.7,220.9 973.0,221.7 C976.3,222.5 980.0,222.1 983.0,221.7 C986.0,221.3 988.5,219.9 991.3,219.3 C994.1,218.7 997.2,217.9 999.7,218.3 C1002.2,218.7 1004.1,219.8 1006.3,221.7 C1008.5,223.6 1010.5,225.8 1013.0,230.0 C1015.5,234.2 1018.5,241.7 1021.3,246.7 C1024.1,251.7 1026.6,256.7 1029.7,260.0 C1032.8,263.3 1036.4,265.3 1039.7,266.7 C1043.0,268.1 1046.4,267.3 1049.7,268.3 C1053.0,269.3 1056.4,270.5 1059.7,272.7 C1063.0,274.9 1065.8,278.3 1069.7,281.7 C1073.6,285.1 1078.6,289.7 1083.0,293.3 C1087.4,296.9 1092.4,299.4 1096.3,303.3 C1100.2,307.2 1102.3,311.6 1106.3,316.7 C1110.2,321.8 1116.6,329.9 1120.0,333.8 C1123.4,337.7 1124.4,338.9 1126.6,340.0 C1128.8,341.1 1130.8,341.2 1133.2,340.4 C1135.6,339.5 1138.5,336.4 1140.9,334.9 C1143.3,333.4 1145.1,330.5 1147.5,331.6 C1149.9,332.7 1152.5,337.1 1155.2,341.5 C1158.0,345.9 1161.1,352.7 1164.0,358.0 C1166.9,363.3 1169.4,368.4 1172.7,373.4 C1176.0,378.3 1180.0,383.8 1183.7,387.7 C1187.4,391.6 1191.0,394.6 1194.7,396.5 C1198.4,398.4 1202.0,398.7 1205.7,399.3 C1209.4,399.9 1213.0,400.7 1216.7,400.2 C1220.4,399.7 1223.3,397.4 1227.7,396.5 C1232.1,395.6 1238.3,395.6 1243.1,394.9 C1247.9,394.2 1251.9,393.7 1256.3,392.1 C1260.7,390.5 1265.1,387.2 1269.5,385.5 C1273.9,383.8 1277.7,382.5 1282.6,381.8 C1287.5,381.1 1296.3,381.2 1299.0,381.1" stroke="#ff00ff" stroke-width="2.2"/>
<path d="M768.7,220.0 C769.6,220.4 772.0,223.8 774.3,222.7 C776.6,221.6 779.4,216.4 782.7,213.3 C786.0,210.2 791.0,205.4 794.3,204.3 C797.6,203.2 799.4,204.9 802.7,206.7 C806.0,208.5 811.0,214.2 814.3,215.0 C817.6,215.8 819.6,214.5 822.7,211.7 C825.8,208.9 829.7,202.8 832.7,198.3 C835.8,193.9 838.0,189.7 841.0,185.0 C844.0,180.3 847.7,173.9 851.0,170.0 C854.3,166.1 858.0,163.1 861.0,161.7 C864.0,160.3 866.2,161.0 869.3,161.7 C872.3,162.4 876.0,164.1 879.3,166.0 C882.6,167.9 886.0,171.1 889.3,173.3 C892.6,175.5 896.0,177.4 899.3,179.3 C902.6,181.2 906.0,182.4 909.3,185.0 C912.6,187.6 916.0,191.7 919.3,195.0 C922.6,198.3 926.0,201.7 929.3,205.0 C932.6,208.3 937.0,212.5 939.3,215.0 C941.6,217.5 940.7,218.2 943.0,220.0 C945.3,221.8 949.7,224.3 953.0,226.0 C956.3,227.7 959.7,229.1 963.0,230.0 C966.3,230.9 969.7,230.9 973.0,231.7 C976.3,232.5 979.7,235.2 983.0,235.0 C986.3,234.8 989.7,232.0 993.0,230.7 C996.3,229.4 1000.2,226.9 1003.0,227.3 C1005.8,227.7 1007.2,229.8 1009.7,233.3 C1012.2,236.8 1015.2,243.3 1018.0,248.3 C1020.8,253.3 1023.2,259.7 1026.3,263.3 C1029.3,266.9 1032.4,268.3 1036.3,270.0 C1040.2,271.7 1045.8,272.1 1049.7,273.3 C1053.6,274.5 1056.4,275.1 1059.7,277.3 C1063.0,279.5 1065.8,283.5 1069.7,286.7 C1073.6,289.9 1078.6,293.4 1083.0,296.7 C1087.4,300.0 1092.4,302.8 1096.3,306.7 C1100.2,310.6 1102.3,315.6 1106.3,320.0 C1110.2,324.4 1116.2,330.7 1120.0,333.4 C1123.8,336.1 1126.2,335.6 1128.8,336.0 C1131.4,336.4 1133.2,336.2 1135.4,335.6 C1137.6,335.1 1139.8,333.4 1142.0,332.7 C1144.2,332.0 1146.2,330.3 1148.6,331.6 C1151.0,332.9 1153.7,336.4 1156.3,340.4 C1158.9,344.4 1161.3,350.7 1164.0,355.8 C1166.7,360.9 1169.4,366.8 1172.7,371.2 C1176.0,375.6 1180.0,379.4 1183.7,382.2 C1187.4,384.9 1191.0,386.2 1194.7,387.7 C1198.4,389.2 1202.0,390.4 1205.7,391.0 C1209.4,391.6 1213.0,392.3 1216.7,391.4 C1220.4,390.5 1223.7,387.0 1227.7,385.5 C1231.7,384.0 1236.1,383.3 1240.9,382.2 C1245.7,381.1 1251.5,380.7 1256.3,378.9 C1261.1,377.1 1265.1,373.4 1269.5,371.2 C1273.9,369.0 1277.7,367.1 1282.6,365.7 C1287.5,364.3 1296.3,363.4 1299.0,362.9" stroke="#ffff80" stroke-width="2.2"/>
</g>
<line x1="838.00" y1="479.00" x2="838.00" y2="487.80" stroke="#000" stroke-width="2.1" stroke-linecap="butt"/>
<text transform="translate(816.51 515.60) scale(0.94 1)" font-family="Liberation Sans" font-size="27.7" font-weight="bold">350</text>
<line x1="953.15" y1="479.00" x2="953.15" y2="487.80" stroke="#000" stroke-width="2.1" stroke-linecap="butt"/>
<text transform="translate(931.77 515.60) scale(0.94 1)" font-family="Liberation Sans" font-size="27.7" font-weight="bold">400</text>
<line x1="1068.30" y1="479.00" x2="1068.30" y2="487.80" stroke="#000" stroke-width="2.1" stroke-linecap="butt"/>
<text transform="translate(1046.92 515.60) scale(0.94 1)" font-family="Liberation Sans" font-size="27.7" font-weight="bold">450</text>
<line x1="1183.45" y1="479.00" x2="1183.45" y2="487.80" stroke="#000" stroke-width="2.1" stroke-linecap="butt"/>
<text transform="translate(1161.86 515.60) scale(0.94 1)" font-family="Liberation Sans" font-size="27.7" font-weight="bold">500</text>
<line x1="1298.60" y1="479.00" x2="1298.60" y2="487.80" stroke="#000" stroke-width="2.1" stroke-linecap="butt"/>
<text transform="translate(1277.01 515.60) scale(0.94 1)" font-family="Liberation Sans" font-size="27.7" font-weight="bold">550</text>
<line x1="780.42" y1="479.00" x2="780.42" y2="484.00" stroke="#000" stroke-width="2.1" stroke-linecap="butt"/>
<line x1="895.58" y1="479.00" x2="895.58" y2="484.00" stroke="#000" stroke-width="2.1" stroke-linecap="butt"/>
<line x1="1010.72" y1="479.00" x2="1010.72" y2="484.00" stroke="#000" stroke-width="2.1" stroke-linecap="butt"/>
<line x1="1125.88" y1="479.00" x2="1125.88" y2="484.00" stroke="#000" stroke-width="2.1" stroke-linecap="butt"/>
<line x1="1241.02" y1="479.00" x2="1241.02" y2="484.00" stroke="#000" stroke-width="2.1" stroke-linecap="butt"/>
<line x1="761.10" y1="479.00" x2="768.30" y2="479.00" stroke="#000" stroke-width="2.1" stroke-linecap="butt"/>
<text transform="translate(739.69 487.00) scale(0.94 1)" font-family="Liberation Sans" font-size="27.7" font-weight="bold">0</text>
<line x1="761.10" y1="376.68" x2="768.30" y2="376.68" stroke="#000" stroke-width="2.1" stroke-linecap="butt"/>
<text transform="translate(710.72 384.68) scale(0.94 1)" font-family="Liberation Sans" font-size="27.7" font-weight="bold">100</text>
<line x1="761.10" y1="274.35" x2="768.30" y2="274.35" stroke="#000" stroke-width="2.1" stroke-linecap="butt"/>
<text transform="translate(710.72 282.35) scale(0.94 1)" font-family="Liberation Sans" font-size="27.7" font-weight="bold">200</text>
<line x1="761.10" y1="172.02" x2="768.30" y2="172.02" stroke="#000" stroke-width="2.1" stroke-linecap="butt"/>
<text transform="translate(710.72 180.02) scale(0.94 1)" font-family="Liberation Sans" font-size="27.7" font-weight="bold">300</text>
<line x1="761.10" y1="69.70" x2="768.30" y2="69.70" stroke="#000" stroke-width="2.1" stroke-linecap="butt"/>
<text transform="translate(710.72 77.70) scale(0.94 1)" font-family="Liberation Sans" font-size="27.7" font-weight="bold">400</text>
<line x1="764.30" y1="427.84" x2="768.30" y2="427.84" stroke="#000" stroke-width="2.1" stroke-linecap="butt"/>
<line x1="764.30" y1="325.51" x2="768.30" y2="325.51" stroke="#000" stroke-width="2.1" stroke-linecap="butt"/>
<line x1="764.30" y1="223.19" x2="768.30" y2="223.19" stroke="#000" stroke-width="2.1" stroke-linecap="butt"/>
<line x1="764.30" y1="120.86" x2="768.30" y2="120.86" stroke="#000" stroke-width="2.1" stroke-linecap="butt"/>
<rect x="1184" y="18.6" width="114.59999999999991" height="180.9" fill="#fff" stroke="#808080" stroke-width="1.4"/>
<rect x="768.3" y="18.6" width="530.3" height="460.4" fill="none" stroke="#000" stroke-width="2.1"/>
<line x1="1186.20" y1="35.10" x2="1236.00" y2="35.10" stroke="#000000" stroke-width="2.5" stroke-linecap="butt"/>
<text transform="translate(1241.39 43.00) scale(0.945 1)" font-family="Liberation Sans" font-size="23.8" font-weight="normal">T400</text>
<line x1="1186.20" y1="65.00" x2="1236.00" y2="65.00" stroke="#ff0000" stroke-width="2.5" stroke-linecap="butt"/>
<text transform="translate(1241.39 72.90) scale(0.945 1)" font-family="Liberation Sans" font-size="23.8" font-weight="normal">TAg1</text>
<line x1="1186.20" y1="94.30" x2="1236.00" y2="94.30" stroke="#00ff00" stroke-width="2.5" stroke-linecap="butt"/>
<text transform="translate(1241.39 102.20) scale(0.945 1)" font-family="Liberation Sans" font-size="23.8" font-weight="normal">TAg2</text>
<line x1="1186.20" y1="123.50" x2="1236.00" y2="123.50" stroke="#0000ff" stroke-width="2.5" stroke-linecap="butt"/>
<text transform="translate(1241.39 131.40) scale(0.945 1)" font-family="Liberation Sans" font-size="23.8" font-weight="normal">TAg3</text>
<line x1="1186.20" y1="153.00" x2="1236.00" y2="153.00" stroke="#ff00ff" stroke-width="2.5" stroke-linecap="butt"/>
<text transform="translate(1241.39 160.90) scale(0.945 1)" font-family="Liberation Sans" font-size="23.8" font-weight="normal">TAg4</text>
<line x1="1186.20" y1="182.30" x2="1236.00" y2="182.30" stroke="#ffff80" stroke-width="2.5" stroke-linecap="butt"/>
<text transform="translate(1241.39 190.20) scale(0.945 1)" font-family="Liberation Sans" font-size="23.8" font-weight="normal">TAg5</text>
<text transform="translate(940.27 560.80) scale(0.96 1)" font-family="Liberation Sans" font-size="27.4" font-weight="bold">Wavelength (nm)</text>
<text transform="translate(689.70 270.40) scale(0.94 1) rotate(-90)" font-family="Liberation Sans" font-size="30.4" font-weight="bold" text-anchor="middle">Intensity (a.u.)</text>
<text transform="translate(807.62 445.80) scale(1.0 1)" font-family="Liberation Serif" font-size="40.5" font-weight="bold">(b)</text>
<text transform="translate(1093.03 443.10) scale(1.15 1)" font-family="Liberation Serif" font-size="22.5" font-weight="normal" font-style="italic">λ</text>
<text transform="translate(1103.38 449.70) scale(0.83 1)" font-family="Liberation Sans" font-size="17.5" font-weight="normal">ex</text>
<text transform="translate(1119.93 443.10) scale(0.925 1)" font-family="Liberation Sans" font-size="23.8" font-weight="normal">=300 nm</text>
<clipPath id="cc"><rect x="114.3" y="577.8" width="530.0" height="460.20000000000005"/></clipPath>
<g clip-path="url(#cc)" fill="none" stroke-linejoin="round" stroke-linecap="round">
<path d="M114.7,695.0 C115.6,695.2 118.2,695.5 120.3,696.0 C122.3,696.5 124.8,699.0 127.0,698.3 C129.2,697.6 131.2,695.9 133.7,691.7 C136.2,687.5 139.2,679.7 142.0,673.3 C144.8,666.9 147.0,657.6 150.3,653.3 C153.6,649.0 158.1,647.3 162.0,647.3 C165.9,647.3 170.4,651.2 173.7,653.3 C177.0,655.4 178.9,657.5 182.0,660.0 C185.1,662.5 188.7,666.2 192.0,668.3 C195.3,670.4 198.7,672.1 202.0,672.7 C205.3,673.3 208.7,671.3 212.0,671.7 C215.3,672.1 218.7,673.3 222.0,675.0 C225.3,676.7 228.1,678.7 232.0,681.7 C235.9,684.8 240.9,689.7 245.3,693.3 C249.8,696.9 254.2,700.8 258.7,703.3 C263.1,705.8 266.9,706.5 272.0,708.3 C277.1,710.1 284.2,712.5 289.0,714.0 C293.8,715.5 297.4,717.2 300.7,717.3 C304.0,717.3 306.5,715.8 309.0,714.3 C311.5,712.8 313.2,709.7 315.7,708.3 C318.2,706.9 321.5,705.4 324.0,705.7 C326.5,706.0 328.2,706.6 330.7,710.0 C333.2,713.4 335.9,721.0 339.0,726.0 C342.1,731.0 345.7,736.5 349.0,740.0 C352.3,743.5 355.7,745.4 359.0,746.7 C362.3,748.0 365.7,747.4 369.0,747.7 C372.3,748.0 375.9,747.4 379.0,748.3 C382.1,749.2 384.5,750.8 387.3,753.3 C390.1,755.8 392.6,759.7 395.7,763.3 C398.8,766.9 402.6,771.7 405.7,775.0 C408.8,778.3 411.2,780.8 414.0,783.3 C416.8,785.8 419.2,786.1 422.3,790.0 C425.4,793.9 429.0,801.2 432.3,806.7 C435.6,812.2 439.0,817.8 442.3,823.3 C445.6,828.8 449.2,836.4 452.3,840.0 C455.4,843.6 458.4,844.0 460.7,845.0 C463.0,846.0 463.8,846.4 466.0,845.7 C468.2,845.0 471.3,842.5 473.7,840.9 C476.1,839.3 478.6,836.4 480.5,836.1 C482.4,835.8 483.5,837.1 485.3,839.0 C487.1,840.9 489.2,844.0 491.1,847.7 C493.0,851.4 495.1,856.5 496.9,861.2 C498.7,865.9 500.0,870.9 501.8,875.7 C503.6,880.5 505.4,885.9 507.6,890.2 C509.9,894.6 512.6,897.8 515.3,901.8 C518.0,905.8 520.9,910.8 524.0,914.4 C527.1,918.0 530.5,920.7 533.7,923.1 C536.9,925.5 540.4,927.4 543.3,928.9 C546.2,930.4 547.9,931.6 551.1,932.2 C554.3,932.8 558.8,932.6 562.7,932.7 C566.6,932.8 570.4,932.4 574.3,932.7 C578.2,933.0 582.0,933.7 585.9,934.3 C589.8,934.9 593.6,935.6 597.5,936.2 C601.4,936.9 605.2,937.7 609.1,938.2 C613.0,938.8 616.8,939.0 620.7,939.5 C624.6,940.0 628.2,940.4 632.3,941.1 C636.3,941.9 642.9,943.5 645.0,944.0" stroke="#000000" stroke-width="2.2"/>
<path d="M114.7,710.7 C115.4,710.5 116.9,708.9 118.7,709.3 C120.5,709.7 123.1,713.2 125.3,713.3 C127.5,713.4 129.2,713.6 132.0,710.0 C134.8,706.4 138.9,697.2 142.0,691.7 C145.1,686.2 147.5,679.9 150.3,676.7 C153.1,673.5 155.9,672.3 158.7,672.3 C161.5,672.3 164.2,674.0 167.0,676.7 C169.8,679.4 172.2,684.1 175.3,688.3 C178.4,692.5 182.0,697.8 185.3,701.7 C188.6,705.6 191.4,708.7 195.3,711.7 C199.2,714.8 204.2,717.5 208.7,720.0 C213.1,722.5 218.1,724.2 222.0,726.7 C225.9,729.2 228.1,730.3 232.0,735.0 C235.9,739.7 240.9,749.5 245.3,755.0 C249.8,760.5 253.7,764.7 258.7,768.3 C263.7,771.9 270.2,774.4 275.3,776.7 C280.4,779.0 285.3,780.9 289.0,782.3 C292.7,783.7 294.5,784.3 297.3,785.0 C300.1,785.7 302.9,787.2 305.7,786.7 C308.5,786.2 311.2,783.0 314.0,781.7 C316.8,780.4 319.5,778.7 322.3,779.0 C325.1,779.3 327.9,780.3 330.7,783.3 C333.5,786.2 335.9,792.2 339.0,796.7 C342.1,801.2 345.7,807.1 349.0,810.0 C352.3,812.9 355.1,813.3 359.0,814.3 C362.9,815.3 368.1,815.0 372.3,816.0 C376.5,817.0 380.1,817.7 384.0,820.0 C387.9,822.3 391.5,826.7 395.7,830.0 C399.9,833.3 404.6,836.7 409.0,840.0 C413.4,843.3 417.9,845.5 422.3,850.0 C426.8,854.5 431.2,861.2 435.7,866.7 C440.1,872.2 445.1,879.4 449.0,883.3 C452.9,887.2 456.2,888.7 459.0,890.0 C461.8,891.3 462.2,892.1 466.0,891.2 C469.8,890.3 477.9,884.7 481.5,884.4 C485.1,884.1 485.4,886.8 487.3,889.2 C489.2,891.6 491.2,895.2 493.1,898.9 C495.0,902.5 496.6,907.1 498.9,911.1 C501.1,915.1 503.7,919.2 506.6,923.1 C509.5,927.0 512.8,931.0 516.3,934.7 C519.8,938.4 524.0,942.5 527.9,945.3 C531.8,948.1 535.6,949.9 539.5,951.7 C543.4,953.5 547.2,955.4 551.1,956.3 C555.0,957.2 558.8,956.7 562.7,956.9 C566.6,957.1 570.4,957.2 574.3,957.5 C578.2,957.8 582.0,958.2 585.9,958.8 C589.8,959.3 593.6,960.3 597.5,960.8 C601.4,961.3 605.2,961.4 609.1,961.7 C613.0,962.0 616.8,962.4 620.7,962.7 C624.6,963.0 628.2,963.0 632.3,963.3 C636.3,963.6 642.9,964.4 645.0,964.6" stroke="#ff0000" stroke-width="2.2"/>
<path d="M114.7,750.7 C115.6,750.5 118.2,749.1 120.3,749.3 C122.3,749.5 124.5,752.7 127.0,751.7 C129.5,750.7 132.2,748.0 135.3,743.3 C138.4,738.6 142.0,728.6 145.3,723.3 C148.6,718.0 152.5,713.8 155.3,711.7 C158.1,709.6 159.2,709.9 162.0,710.7 C164.8,711.5 168.7,713.5 172.0,716.7 C175.3,719.9 178.1,726.1 182.0,730.0 C185.9,733.9 190.9,737.2 195.3,740.0 C199.8,742.8 204.2,744.8 208.7,746.7 C213.1,748.7 217.6,749.2 222.0,751.7 C226.4,754.2 230.9,757.8 235.3,761.7 C239.8,765.6 244.2,771.1 248.7,775.0 C253.1,778.9 257.0,782.2 262.0,785.0 C267.0,787.8 274.2,790.2 278.7,791.7 C283.2,793.2 285.9,793.2 289.0,794.0 C292.1,794.8 294.8,796.0 297.3,796.7 C299.8,797.4 301.2,799.0 304.0,798.3 C306.8,797.6 310.9,794.0 314.0,792.7 C317.1,791.4 319.5,790.3 322.3,790.7 C325.1,791.1 327.9,792.3 330.7,795.0 C333.5,797.7 335.9,803.1 339.0,806.7 C342.1,810.3 345.7,814.6 349.0,816.7 C352.3,818.8 355.1,818.5 359.0,819.3 C362.9,820.1 367.9,820.5 372.3,821.7 C376.8,822.9 381.8,824.5 385.7,826.7 C389.6,828.9 391.8,832.0 395.7,835.0 C399.6,838.0 404.6,841.7 409.0,845.0 C413.4,848.3 417.9,850.5 422.3,855.0 C426.8,859.5 431.2,866.4 435.7,871.7 C440.1,877.0 445.1,883.2 449.0,886.7 C452.9,890.2 456.2,891.8 459.0,892.7 C461.8,893.6 463.6,892.8 466.0,892.1 C468.4,891.4 471.1,889.3 473.7,888.3 C476.3,887.3 479.2,885.7 481.5,886.0 C483.8,886.3 485.4,887.9 487.3,890.2 C489.2,892.5 491.2,896.4 493.1,899.9 C495.0,903.4 496.6,907.5 498.9,911.5 C501.1,915.5 503.7,920.1 506.6,924.0 C509.5,927.9 512.8,931.0 516.3,934.7 C519.8,938.4 524.0,943.4 527.9,946.3 C531.8,949.2 535.6,950.5 539.5,952.1 C543.4,953.7 547.2,955.2 551.1,955.9 C555.0,956.6 558.8,956.3 562.7,956.3 C566.6,956.3 570.4,955.7 574.3,955.9 C578.2,956.1 582.0,956.9 585.9,957.5 C589.8,958.1 593.6,958.9 597.5,959.4 C601.4,959.9 605.2,959.9 609.1,960.2 C613.0,960.5 616.8,961.1 620.7,961.4 C624.6,961.6 628.2,961.5 632.3,961.7 C636.3,961.9 642.9,962.5 645.0,962.7" stroke="#00ff00" stroke-width="2.2"/>
<path d="M114.7,736.7 C115.6,737.0 118.0,737.5 120.3,738.3 C122.6,739.1 125.9,743.1 128.7,741.7 C131.5,740.3 134.2,734.2 137.0,730.0 C139.8,725.8 142.5,720.0 145.3,716.7 C148.1,713.4 150.9,711.1 153.7,710.0 C156.5,708.9 159.5,708.6 162.0,710.0 C164.5,711.4 166.2,715.5 168.7,718.3 C171.2,721.1 173.9,722.8 177.0,726.7 C180.1,730.6 183.4,737.0 187.0,741.7 C190.6,746.4 195.1,751.7 198.7,755.0 C202.3,758.3 204.8,758.9 208.7,761.7 C212.6,764.5 218.1,768.4 222.0,771.7 C225.9,775.0 228.1,777.5 232.0,781.7 C235.9,785.9 240.9,791.7 245.3,796.7 C249.8,801.7 253.7,807.8 258.7,811.7 C263.7,815.6 270.2,817.5 275.3,820.0 C280.4,822.5 285.1,824.8 289.0,826.7 C292.9,828.7 295.7,831.0 299.0,831.7 C302.3,832.4 305.4,831.4 309.0,830.7 C312.6,830.0 317.4,827.4 320.7,827.3 C324.0,827.2 325.9,827.6 329.0,830.0 C332.1,832.4 335.7,837.5 339.0,841.7 C342.3,845.9 345.1,852.2 349.0,855.0 C352.9,857.8 357.9,857.3 362.3,858.3 C366.8,859.2 371.8,859.6 375.7,860.7 C379.6,861.8 382.4,862.9 385.7,865.0 C389.0,867.1 391.8,870.5 395.7,873.3 C399.6,876.1 404.6,878.6 409.0,881.7 C413.4,884.8 417.9,887.8 422.3,891.7 C426.8,895.6 431.2,901.1 435.7,905.0 C440.1,908.9 445.1,912.8 449.0,915.0 C452.9,917.2 456.2,917.6 459.0,918.3 C461.8,919.0 463.6,919.5 466.0,919.2 C468.4,918.9 471.1,917.3 473.7,916.3 C476.3,915.3 479.1,913.1 481.5,913.4 C483.9,913.7 485.9,915.8 488.2,918.2 C490.4,920.6 492.6,924.2 495.0,927.9 C497.4,931.6 499.8,936.6 502.7,940.5 C505.6,944.4 508.8,948.1 512.4,951.1 C515.9,954.1 520.1,956.7 524.0,958.8 C527.9,960.9 531.4,962.2 535.6,963.7 C539.8,965.2 544.6,966.9 549.1,967.5 C553.6,968.1 558.5,967.5 562.7,967.5 C566.9,967.5 570.4,967.0 574.3,967.2 C578.2,967.4 582.0,968.0 585.9,968.5 C589.8,969.0 593.6,970.2 597.5,970.4 C601.4,970.6 605.2,969.9 609.1,969.9 C613.0,969.9 616.5,970.1 620.7,970.4 C624.9,970.6 630.2,970.9 634.2,971.4 C638.2,971.9 643.2,973.0 645.0,973.3" stroke="#0000ff" stroke-width="2.2"/>
<path d="M114.7,765.0 C115.6,765.0 118.2,764.7 120.3,765.0 C122.3,765.3 124.5,768.1 127.0,766.7 C129.5,765.3 132.2,761.2 135.3,756.7 C138.4,752.2 142.2,744.7 145.3,740.0 C148.4,735.3 151.2,730.6 153.7,728.3 C156.2,726.0 157.8,725.4 160.3,726.0 C162.8,726.6 165.6,728.5 168.7,731.7 C171.8,734.9 174.8,740.6 178.7,745.0 C182.6,749.4 187.6,754.7 192.0,758.3 C196.4,761.9 200.9,764.2 205.3,766.7 C209.8,769.2 214.2,770.5 218.7,773.3 C223.1,776.1 227.6,779.4 232.0,783.3 C236.4,787.2 240.9,791.7 245.3,796.7 C249.8,801.7 253.7,809.1 258.7,813.3 C263.7,817.5 270.2,819.2 275.3,821.7 C280.4,824.2 285.1,826.5 289.0,828.3 C292.9,830.1 295.7,832.1 299.0,832.7 C302.3,833.3 305.4,832.3 309.0,831.7 C312.6,831.1 317.4,828.7 320.7,829.0 C324.0,829.3 325.9,830.6 329.0,833.3 C332.1,836.0 335.7,841.1 339.0,845.0 C342.3,848.9 345.1,854.2 349.0,856.7 C352.9,859.2 357.9,858.9 362.3,860.0 C366.8,861.1 371.8,861.9 375.7,863.3 C379.6,864.7 382.4,866.3 385.7,868.3 C389.0,870.2 391.8,872.5 395.7,875.0 C399.6,877.5 404.6,880.2 409.0,883.3 C413.4,886.3 417.9,889.1 422.3,893.3 C426.8,897.5 431.2,904.0 435.7,908.3 C440.1,912.6 445.1,916.8 449.0,919.3 C452.9,921.8 456.2,922.7 459.0,923.3 C461.8,923.9 463.6,923.6 466.0,923.1 C468.4,922.6 471.1,921.1 473.7,920.2 C476.3,919.3 479.2,917.6 481.5,917.7 C483.8,917.9 485.1,918.9 487.3,921.1 C489.6,923.3 492.4,927.1 495.0,930.8 C497.6,934.5 499.8,939.4 502.7,943.4 C505.6,947.4 508.8,951.8 512.4,955.0 C515.9,958.2 520.1,960.6 524.0,962.7 C527.9,964.8 531.7,966.0 535.6,967.5 C539.5,969.0 542.7,970.7 547.2,971.4 C551.7,972.1 558.2,971.6 562.7,971.8 C567.2,972.0 570.4,972.1 574.3,972.4 C578.2,972.6 582.0,973.0 585.9,973.3 C589.8,973.6 593.6,974.0 597.5,974.3 C601.4,974.6 605.2,975.0 609.1,975.3 C613.0,975.6 616.8,976.1 620.7,976.2 C624.6,976.4 628.2,976.1 632.3,976.2 C636.3,976.3 642.9,976.7 645.0,976.8" stroke="#ff00ff" stroke-width="2.2"/>
<path d="M114.7,728.3 C115.4,728.6 116.9,728.0 118.7,730.0 C120.5,732.0 123.1,738.0 125.3,740.0 C127.5,742.0 129.8,742.5 132.0,741.7 C134.2,740.9 136.2,737.8 138.7,735.0 C141.2,732.2 144.2,727.6 147.0,725.0 C149.8,722.4 152.8,719.8 155.3,719.3 C157.8,718.8 159.5,719.9 162.0,721.7 C164.5,723.5 167.0,725.3 170.3,730.0 C173.6,734.7 177.8,743.9 182.0,750.0 C186.2,756.1 190.9,762.2 195.3,766.7 C199.8,771.2 204.2,773.7 208.7,776.7 C213.1,779.8 217.6,782.0 222.0,785.0 C226.4,788.0 230.9,791.1 235.3,795.0 C239.8,798.9 244.2,803.8 248.7,808.3 C253.1,812.8 257.0,818.1 262.0,821.7 C267.0,825.3 274.2,827.8 278.7,830.0 C283.2,832.2 285.6,833.6 289.0,835.0 C292.4,836.4 295.7,837.8 299.0,838.3 C302.3,838.8 305.4,838.7 309.0,838.3 C312.6,837.9 317.4,835.7 320.7,836.0 C324.0,836.3 325.9,837.4 329.0,840.0 C332.1,842.6 335.7,848.4 339.0,851.7 C342.3,855.0 345.1,857.8 349.0,860.0 C352.9,862.2 357.9,863.8 362.3,865.0 C366.8,866.2 371.8,866.5 375.7,867.3 C379.6,868.1 382.4,868.4 385.7,870.0 C389.0,871.6 391.8,874.2 395.7,876.7 C399.6,879.2 404.6,882.2 409.0,885.0 C413.4,887.8 417.9,889.7 422.3,893.3 C426.8,896.9 431.2,902.6 435.7,906.7 C440.1,910.8 445.1,915.2 449.0,917.7 C452.9,920.2 456.2,921.5 459.0,921.7 C461.8,922.0 463.6,919.9 466.0,919.2 C468.4,918.5 471.1,917.8 473.7,917.3 C476.3,916.8 479.2,915.8 481.5,916.3 C483.8,916.8 485.1,918.1 487.3,920.2 C489.6,922.3 492.4,925.9 495.0,928.9 C497.6,931.9 499.8,935.0 502.7,938.5 C505.6,942.0 508.8,946.9 512.4,950.1 C515.9,953.3 520.1,956.0 524.0,957.9 C527.9,959.8 531.4,960.6 535.6,961.7 C539.8,962.8 544.6,964.4 549.1,964.6 C553.6,964.8 558.5,963.0 562.7,962.7 C566.9,962.4 570.4,962.5 574.3,962.7 C578.2,962.9 582.0,963.4 585.9,963.7 C589.8,964.0 593.6,964.5 597.5,964.6 C601.4,964.8 605.2,964.5 609.1,964.6 C613.0,964.7 616.8,965.0 620.7,965.2 C624.6,965.4 628.2,965.4 632.3,965.6 C636.3,965.8 642.9,966.4 645.0,966.6" stroke="#ffff00" stroke-width="2.2"/>
</g>
<line x1="142.30" y1="1038.00" x2="142.30" y2="1046.80" stroke="#000" stroke-width="2.1" stroke-linecap="butt"/>
<text transform="translate(120.81 1074.60) scale(0.94 1)" font-family="Liberation Sans" font-size="27.7" font-weight="bold">350</text>
<line x1="267.80" y1="1038.00" x2="267.80" y2="1046.80" stroke="#000" stroke-width="2.1" stroke-linecap="butt"/>
<text transform="translate(246.42 1074.60) scale(0.94 1)" font-family="Liberation Sans" font-size="27.7" font-weight="bold">400</text>
<line x1="393.30" y1="1038.00" x2="393.30" y2="1046.80" stroke="#000" stroke-width="2.1" stroke-linecap="butt"/>
<text transform="translate(371.92 1074.60) scale(0.94 1)" font-family="Liberation Sans" font-size="27.7" font-weight="bold">450</text>
<line x1="518.80" y1="1038.00" x2="518.80" y2="1046.80" stroke="#000" stroke-width="2.1" stroke-linecap="butt"/>
<text transform="translate(497.21 1074.60) scale(0.94 1)" font-family="Liberation Sans" font-size="27.7" font-weight="bold">500</text>
<line x1="644.30" y1="1038.00" x2="644.30" y2="1046.80" stroke="#000" stroke-width="2.1" stroke-linecap="butt"/>
<text transform="translate(622.71 1074.60) scale(0.94 1)" font-family="Liberation Sans" font-size="27.7" font-weight="bold">550</text>
<line x1="205.05" y1="1038.00" x2="205.05" y2="1043.00" stroke="#000" stroke-width="2.1" stroke-linecap="butt"/>
<line x1="330.55" y1="1038.00" x2="330.55" y2="1043.00" stroke="#000" stroke-width="2.1" stroke-linecap="butt"/>
<line x1="456.05" y1="1038.00" x2="456.05" y2="1043.00" stroke="#000" stroke-width="2.1" stroke-linecap="butt"/>
<line x1="581.55" y1="1038.00" x2="581.55" y2="1043.00" stroke="#000" stroke-width="2.1" stroke-linecap="butt"/>
<line x1="107.10" y1="1038.00" x2="114.30" y2="1038.00" stroke="#000" stroke-width="2.1" stroke-linecap="butt"/>
<text transform="translate(85.69 1046.00) scale(0.94 1)" font-family="Liberation Sans" font-size="27.7" font-weight="bold">0</text>
<line x1="107.10" y1="945.96" x2="114.30" y2="945.96" stroke="#000" stroke-width="2.1" stroke-linecap="butt"/>
<text transform="translate(56.72 953.96) scale(0.94 1)" font-family="Liberation Sans" font-size="27.7" font-weight="bold">100</text>
<line x1="107.10" y1="853.92" x2="114.30" y2="853.92" stroke="#000" stroke-width="2.1" stroke-linecap="butt"/>
<text transform="translate(56.72 861.92) scale(0.94 1)" font-family="Liberation Sans" font-size="27.7" font-weight="bold">200</text>
<line x1="107.10" y1="761.88" x2="114.30" y2="761.88" stroke="#000" stroke-width="2.1" stroke-linecap="butt"/>
<text transform="translate(56.72 769.88) scale(0.94 1)" font-family="Liberation Sans" font-size="27.7" font-weight="bold">300</text>
<line x1="107.10" y1="669.84" x2="114.30" y2="669.84" stroke="#000" stroke-width="2.1" stroke-linecap="butt"/>
<text transform="translate(56.72 677.84) scale(0.94 1)" font-family="Liberation Sans" font-size="27.7" font-weight="bold">400</text>
<line x1="107.10" y1="577.80" x2="114.30" y2="577.80" stroke="#000" stroke-width="2.1" stroke-linecap="butt"/>
<text transform="translate(56.72 585.80) scale(0.94 1)" font-family="Liberation Sans" font-size="27.7" font-weight="bold">500</text>
<line x1="110.30" y1="991.98" x2="114.30" y2="991.98" stroke="#000" stroke-width="2.1" stroke-linecap="butt"/>
<line x1="110.30" y1="899.94" x2="114.30" y2="899.94" stroke="#000" stroke-width="2.1" stroke-linecap="butt"/>
<line x1="110.30" y1="807.90" x2="114.30" y2="807.90" stroke="#000" stroke-width="2.1" stroke-linecap="butt"/>
<line x1="110.30" y1="715.86" x2="114.30" y2="715.86" stroke="#000" stroke-width="2.1" stroke-linecap="butt"/>
<line x1="110.30" y1="623.82" x2="114.30" y2="623.82" stroke="#000" stroke-width="2.1" stroke-linecap="butt"/>
<rect x="114.3" y="577.8" width="530.0" height="460.20000000000005" fill="none" stroke="#000" stroke-width="2.1"/>
<rect x="150.7" y="577.0" width="366.50000000000006" height="63.39999999999998" fill="#fff" stroke="#333" stroke-width="1.2"/>
<line x1="153.60" y1="592.80" x2="202.40" y2="592.80" stroke="#000000" stroke-width="2.5" stroke-linecap="butt"/>
<text transform="translate(209.19 600.20) scale(0.945 1)" font-family="Liberation Sans" font-size="23.8" font-weight="normal">T400;</text>
<line x1="272.00" y1="592.80" x2="321.40" y2="592.80" stroke="#ff0000" stroke-width="2.5" stroke-linecap="butt"/>
<text transform="translate(327.29 600.20) scale(0.945 1)" font-family="Liberation Sans" font-size="23.8" font-weight="normal">TAg1;</text>
<line x1="393.40" y1="592.80" x2="443.30" y2="592.80" stroke="#00ff00" stroke-width="2.5" stroke-linecap="butt"/>
<text transform="translate(448.39 600.20) scale(0.945 1)" font-family="Liberation Sans" font-size="23.8" font-weight="normal">TAg2;</text>
<line x1="153.60" y1="622.30" x2="204.00" y2="622.30" stroke="#0000ff" stroke-width="2.5" stroke-linecap="butt"/>
<text transform="translate(209.19 629.50) scale(0.945 1)" font-family="Liberation Sans" font-size="23.8" font-weight="normal">TAg3;</text>
<line x1="274.60" y1="622.30" x2="323.40" y2="622.30" stroke="#ff00ff" stroke-width="2.5" stroke-linecap="butt"/>
<text transform="translate(330.19 629.50) scale(0.945 1)" font-family="Liberation Sans" font-size="23.8" font-weight="normal">TAg4;</text>
<line x1="395.90" y1="622.30" x2="445.30" y2="622.30" stroke="#ffff00" stroke-width="2.5" stroke-linecap="butt"/>
<text transform="translate(450.69 629.50) scale(0.945 1)" font-family="Liberation Sans" font-size="23.8" font-weight="normal">TAg5;</text>
<text transform="translate(268.17 1127.50) scale(0.96 1)" font-family="Liberation Sans" font-size="27.4" font-weight="bold">Wavelength (nm)</text>
<text transform="translate(32.60 794.60) scale(0.94 1) rotate(-90)" font-family="Liberation Sans" font-size="30.4" font-weight="bold" text-anchor="middle">Intensity (a.u.)</text>
<text transform="translate(141.73 1000.80) scale(1.0 1)" font-family="Liberation Serif" font-size="40.2" font-weight="bold">(c)</text>
<text transform="translate(393.03 998.40) scale(1.15 1)" font-family="Liberation Serif" font-size="22.5" font-weight="normal" font-style="italic">λ</text>
<text transform="translate(403.38 1005.00) scale(0.83 1)" font-family="Liberation Sans" font-size="17.5" font-weight="normal">ex</text>
<text transform="translate(419.93 998.40) scale(0.925 1)" font-family="Liberation Sans" font-size="23.8" font-weight="normal">=320 nm</text>
<clipPath id="cd"><rect x="767.4" y="584.6" width="529.9" height="459.9999999999999"/></clipPath>
<g clip-path="url(#cd)" fill="none" stroke-linejoin="round" stroke-linecap="round">
<path d="M767.8,634.8 C768.5,637.6 770.3,644.9 771.9,651.4 C773.5,657.9 775.4,666.6 777.5,673.5 C779.6,680.4 782.1,687.6 784.4,692.9 C786.7,698.2 788.5,702.2 791.3,705.4 C794.1,708.6 798.0,710.1 801.0,712.3 C804.0,714.5 807.0,716.3 809.3,718.4 C811.6,720.5 812.5,719.7 814.8,724.7 C817.1,729.7 820.1,740.2 823.1,748.3 C826.1,756.4 829.6,766.3 832.8,773.2 C836.0,780.1 839.0,785.0 842.5,789.8 C846.0,794.6 850.3,799.2 853.5,802.2 C856.7,805.2 858.6,805.4 861.8,807.7 C865.0,810.0 869.7,813.0 872.9,816.0 C876.1,819.0 878.2,823.4 881.2,825.7 C884.2,828.0 888.1,829.4 890.9,829.9 C893.7,830.4 895.5,828.8 897.8,828.5 C900.1,828.2 902.5,827.1 904.8,827.9 C907.1,828.7 908.9,829.5 911.6,833.1 C914.4,836.7 917.9,845.1 921.3,849.6 C924.7,854.1 928.0,857.5 931.9,860.2 C935.8,862.9 940.7,864.5 944.4,866.0 C948.1,867.5 950.2,866.8 954.1,868.9 C958.0,871.0 963.4,875.2 967.6,878.6 C971.8,882.0 975.7,886.3 979.2,889.2 C982.8,892.1 985.0,892.0 988.9,895.9 C992.8,899.8 997.9,907.4 1002.4,912.4 C1006.9,917.4 1012.3,923.0 1015.9,925.9 C1019.5,928.8 1020.8,929.2 1023.7,929.8 C1026.6,930.3 1030.4,929.8 1033.3,929.2 C1036.2,928.7 1038.5,926.6 1041.1,926.5 C1043.7,926.4 1046.2,927.0 1048.8,928.8 C1051.4,930.6 1053.9,934.1 1056.5,937.5 C1059.1,940.9 1061.7,945.6 1064.3,949.1 C1066.9,952.6 1069.1,955.8 1072.0,958.7 C1074.9,961.6 1077.8,963.8 1081.6,966.5 C1085.4,969.2 1090.2,973.4 1095.0,975.2 C1099.8,977.0 1105.3,976.7 1110.5,977.1 C1115.7,977.5 1119.5,976.8 1126.0,977.4 C1132.5,978.0 1141.5,979.8 1149.2,981.0 C1156.9,982.2 1165.4,983.4 1172.4,984.9 C1179.4,986.4 1185.8,988.8 1191.0,989.8 C1196.2,990.8 1197.4,990.6 1203.3,990.8 C1209.2,991.0 1218.8,990.8 1226.5,990.8 C1234.2,990.8 1243.2,991.2 1249.7,991.1 C1256.2,991.0 1260.0,990.6 1265.2,990.3 C1270.4,990.0 1275.2,989.5 1280.7,989.2 C1286.2,988.9 1295.1,988.4 1298.0,988.3" stroke="#000000" stroke-width="2.1"/>
<path d="M767.8,593.3 C768.5,597.4 770.3,609.4 771.9,618.2 C773.5,627.0 775.4,637.1 777.5,645.9 C779.6,654.7 782.1,663.2 784.4,670.8 C786.7,678.4 789.0,686.0 791.3,691.5 C793.6,697.0 795.7,700.1 798.2,704.0 C800.7,707.9 804.0,711.3 806.5,715.0 C809.0,718.7 811.1,721.5 813.4,726.1 C815.7,730.7 817.8,735.8 820.3,742.7 C822.8,749.6 825.8,759.8 828.6,767.6 C831.4,775.5 834.1,783.3 836.9,789.8 C839.7,796.3 842.0,801.1 845.2,806.4 C848.4,811.7 852.6,817.5 856.3,821.6 C860.0,825.8 863.7,828.1 867.4,831.3 C871.1,834.5 874.9,838.7 878.4,841.0 C881.9,843.3 884.9,844.2 888.1,845.1 C891.3,846.0 894.7,846.1 897.8,846.5 C900.9,846.9 904.2,846.1 906.8,847.6 C909.4,849.1 910.5,851.2 913.5,855.4 C916.5,859.6 921.6,868.9 925.1,872.8 C928.6,876.7 930.9,876.7 934.8,878.6 C938.7,880.5 944.4,883.0 948.3,884.3 C952.2,885.6 954.5,884.4 958.0,886.3 C961.5,888.2 965.7,892.8 969.6,895.9 C973.5,899.0 977.7,902.2 981.2,904.6 C984.7,907.0 987.3,907.3 990.8,910.4 C994.3,913.5 998.8,919.5 1002.4,923.0 C1006.0,926.5 1008.5,929.3 1012.1,931.7 C1015.7,934.1 1020.2,936.7 1023.7,937.5 C1027.2,938.3 1030.2,937.3 1033.3,936.5 C1036.3,935.7 1038.8,932.4 1042.0,932.7 C1045.2,933.0 1049.3,935.6 1052.7,938.5 C1056.1,941.4 1059.1,946.3 1062.3,950.0 C1065.5,953.7 1068.5,957.6 1072.0,960.7 C1075.5,963.8 1079.8,966.3 1083.6,968.4 C1087.4,970.5 1090.5,972.1 1095.0,973.3 C1099.5,974.5 1105.3,975.4 1110.5,975.6 C1115.7,975.8 1119.5,974.1 1126.0,974.3 C1132.5,974.5 1141.5,975.7 1149.2,976.8 C1156.9,977.9 1166.0,979.8 1172.4,981.0 C1178.8,982.2 1182.7,983.2 1187.8,984.1 C1192.9,985.0 1196.8,986.0 1203.3,986.4 C1209.8,986.8 1218.8,986.7 1226.5,986.7 C1234.2,986.8 1243.2,986.6 1249.7,986.7 C1256.2,986.8 1260.0,987.4 1265.2,987.2 C1270.4,987.0 1275.2,986.1 1280.7,985.6 C1286.2,985.1 1295.1,984.4 1298.0,984.1" stroke="#ff0000" stroke-width="2.1"/>
<path d="M767.8,652.8 C768.5,655.3 770.1,661.3 771.9,668.0 C773.7,674.7 776.5,685.5 778.8,692.9 C781.1,700.3 783.2,705.8 785.8,712.3 C788.3,718.8 791.6,727.5 794.1,731.6 C796.6,735.8 798.2,734.2 801.0,737.2 C803.8,740.2 807.7,745.0 810.7,749.6 C813.7,754.2 816.2,758.2 819.0,764.9 C821.8,771.6 824.3,782.0 827.3,789.8 C830.3,797.6 833.4,805.4 836.9,811.9 C840.4,818.4 844.1,823.6 848.0,828.5 C851.9,833.4 856.6,837.5 860.5,841.0 C864.4,844.5 867.8,846.5 871.5,849.2 C875.2,852.0 878.9,855.5 882.6,857.5 C886.3,859.5 890.0,860.6 893.7,861.1 C897.4,861.6 901.8,860.0 904.8,860.8 C907.8,861.6 908.5,862.6 911.6,866.0 C914.7,869.4 918.7,877.1 923.2,881.4 C927.7,885.7 934.1,889.6 938.6,891.7 C943.1,893.8 946.3,892.8 950.2,894.0 C954.1,895.2 957.3,896.1 961.8,898.8 C966.3,901.5 972.5,907.2 977.3,910.4 C982.1,913.6 986.3,914.5 990.8,918.2 C995.3,921.9 1000.1,929.0 1004.3,932.7 C1008.5,936.4 1012.0,938.8 1015.9,940.4 C1019.8,942.0 1024.3,942.3 1027.5,942.3 C1030.7,942.3 1032.7,941.1 1035.3,940.4 C1037.9,939.7 1040.4,937.9 1043.0,938.1 C1045.6,938.3 1047.8,938.8 1050.7,941.4 C1053.6,944.0 1057.2,950.2 1060.4,953.9 C1063.6,957.6 1066.5,960.7 1070.0,963.6 C1073.5,966.5 1077.4,969.2 1081.6,971.3 C1085.8,973.4 1090.2,975.0 1095.0,976.4 C1099.8,977.8 1105.3,979.3 1110.5,979.5 C1115.7,979.7 1119.5,977.2 1126.0,977.4 C1132.5,977.6 1141.5,979.5 1149.2,980.5 C1156.9,981.5 1166.0,982.3 1172.4,983.3 C1178.8,984.3 1182.7,985.6 1187.8,986.4 C1192.9,987.2 1196.8,987.6 1203.3,988.0 C1209.8,988.4 1218.8,988.6 1226.5,988.7 C1234.2,988.8 1243.2,988.7 1249.7,988.7 C1256.2,988.7 1260.0,989.1 1265.2,988.7 C1270.4,988.3 1275.2,987.1 1280.7,986.4 C1286.2,985.7 1295.1,984.9 1298.0,984.6" stroke="#00ff00" stroke-width="2.1"/>
<path d="M767.8,659.7 C768.5,662.9 770.1,670.8 771.9,679.1 C773.7,687.4 776.3,699.8 778.8,709.5 C781.3,719.2 784.3,730.1 787.1,737.2 C789.9,744.4 792.2,747.8 795.4,752.4 C798.6,757.0 803.3,760.5 806.5,764.9 C809.7,769.3 812.0,772.2 814.8,778.7 C817.6,785.2 820.3,795.8 823.1,803.6 C825.9,811.4 828.2,818.8 831.4,825.7 C834.6,832.6 838.4,839.3 842.5,845.1 C846.6,850.9 851.7,856.1 856.3,860.3 C860.9,864.4 866.0,866.8 870.1,870.0 C874.2,873.2 877.7,877.2 881.2,879.7 C884.7,882.2 887.8,884.3 890.9,885.2 C894.0,886.1 896.9,884.3 900.0,885.3 C903.1,886.3 906.8,888.7 909.7,891.1 C912.6,893.5 914.5,896.9 917.4,899.8 C920.3,902.7 923.6,906.1 927.1,908.5 C930.6,910.9 934.1,912.6 938.6,914.3 C943.1,916.0 949.3,916.8 954.1,918.7 C958.9,920.6 963.1,923.6 967.6,925.9 C972.1,928.2 977.3,930.6 981.2,932.7 C985.1,934.8 987.3,935.9 990.8,938.5 C994.3,941.1 998.2,945.1 1002.4,948.1 C1006.6,951.1 1011.7,954.6 1015.9,956.2 C1020.1,957.8 1024.3,957.8 1027.5,957.8 C1030.7,957.8 1032.7,956.8 1035.3,956.2 C1037.9,955.7 1040.1,954.1 1043.0,954.5 C1045.9,954.9 1049.5,956.2 1052.7,958.7 C1055.9,961.2 1059.1,966.3 1062.3,969.4 C1065.5,972.5 1068.5,975.2 1072.0,977.1 C1075.5,979.0 1079.8,979.5 1083.6,981.0 C1087.4,982.5 1087.9,985.5 1095.0,986.4 C1102.1,987.2 1115.7,985.6 1126.0,986.1 C1136.3,986.6 1146.6,988.1 1156.9,989.5 C1167.2,990.9 1177.5,993.3 1187.8,994.2 C1198.1,995.1 1208.5,994.9 1218.8,994.9 C1229.1,994.9 1240.7,994.6 1249.7,994.5 C1258.7,994.4 1264.9,994.8 1272.9,994.5 C1281.0,994.2 1293.8,992.9 1298.0,992.6" stroke="#0000ff" stroke-width="2.1"/>
<path d="M767.8,684.6 C768.5,687.4 770.1,694.3 771.9,701.2 C773.7,708.1 776.3,718.2 778.8,726.1 C781.3,734.0 784.3,742.3 787.1,748.3 C789.9,754.3 792.2,758.0 795.4,762.1 C798.6,766.2 803.3,769.5 806.5,773.2 C809.7,776.9 812.0,778.7 814.8,784.2 C817.6,789.7 820.3,799.0 823.1,806.4 C825.9,813.8 828.2,821.4 831.4,828.5 C834.6,835.6 838.4,843.4 842.5,849.2 C846.6,855.0 851.7,859.2 856.3,863.1 C860.9,867.0 866.0,869.6 870.1,872.8 C874.2,876.0 877.7,880.0 881.2,882.5 C884.7,885.0 887.8,887.2 890.9,888.0 C894.0,888.8 896.9,886.4 900.0,887.2 C903.1,888.0 906.8,890.6 909.7,893.0 C912.6,895.4 914.5,898.6 917.4,901.7 C920.3,904.8 923.6,909.0 927.1,911.4 C930.6,913.8 934.1,914.7 938.6,916.2 C943.1,917.8 949.3,918.8 954.1,920.7 C958.9,922.6 963.1,925.5 967.6,927.8 C972.1,930.1 977.3,932.5 981.2,934.6 C985.1,936.7 987.3,937.8 990.8,940.4 C994.3,943.0 998.2,947.0 1002.4,950.0 C1006.6,953.0 1011.7,956.8 1015.9,958.7 C1020.1,960.6 1024.3,961.1 1027.5,961.3 C1030.7,961.5 1032.7,960.3 1035.3,959.7 C1037.9,959.1 1040.1,957.3 1043.0,957.8 C1045.9,958.3 1049.5,960.0 1052.7,962.6 C1055.9,965.2 1059.1,970.0 1062.3,973.2 C1065.5,976.4 1068.5,979.8 1072.0,981.9 C1075.5,984.0 1079.8,984.7 1083.6,985.8 C1087.4,986.9 1089.8,988.0 1095.0,988.7 C1100.2,989.5 1109.9,990.2 1115.1,990.3 C1120.3,990.4 1119.0,989.0 1126.0,989.2 C1133.0,989.5 1146.6,990.5 1156.9,991.8 C1167.2,993.1 1177.5,995.9 1187.8,996.9 C1198.1,997.9 1208.5,997.9 1218.8,998.0 C1229.1,998.1 1240.7,997.6 1249.7,997.6 C1258.7,997.6 1264.9,998.4 1272.9,998.0 C1281.0,997.6 1293.8,995.8 1298.0,995.4" stroke="#ff00ff" stroke-width="2.1"/>
<path d="M767.8,665.2 C768.5,668.4 770.1,676.3 771.9,684.6 C773.7,692.9 776.3,705.3 778.8,715.0 C781.3,724.7 784.3,735.3 787.1,742.7 C789.9,750.1 792.2,754.2 795.4,759.3 C798.6,764.4 803.3,769.1 806.5,773.2 C809.7,777.4 812.0,778.5 814.8,784.2 C817.6,790.0 820.3,800.1 823.1,807.7 C825.9,815.3 828.2,822.8 831.4,829.9 C834.6,837.0 838.4,844.8 842.5,850.6 C846.6,856.4 851.7,860.6 856.3,864.5 C860.9,868.4 866.0,871.0 870.1,874.2 C874.2,877.4 877.7,881.3 881.2,883.8 C884.7,886.3 887.8,888.5 890.9,889.4 C894.0,890.3 896.9,888.3 900.0,889.2 C903.1,890.1 906.8,892.6 909.7,895.0 C912.6,897.4 914.5,900.8 917.4,903.7 C920.3,906.6 923.6,910.1 927.1,912.4 C930.6,914.6 934.1,915.7 938.6,917.2 C943.1,918.7 949.3,919.5 954.1,921.4 C958.9,923.3 963.1,926.4 967.6,928.8 C972.1,931.2 977.3,933.5 981.2,935.6 C985.1,937.7 987.3,938.8 990.8,941.4 C994.3,944.0 998.2,948.1 1002.4,951.0 C1006.6,953.9 1011.7,957.2 1015.9,958.7 C1020.1,960.2 1024.3,960.1 1027.5,960.1 C1030.7,960.1 1032.7,959.2 1035.3,958.7 C1037.9,958.2 1040.1,956.4 1043.0,956.8 C1045.9,957.2 1049.5,958.9 1052.7,961.3 C1055.9,963.7 1059.1,968.3 1062.3,971.3 C1065.5,974.2 1068.5,977.1 1072.0,979.0 C1075.5,980.9 1079.8,982.0 1083.6,982.9 C1087.4,983.8 1090.5,984.1 1095.0,984.6 C1099.5,985.1 1105.3,985.6 1110.5,985.6 C1115.7,985.6 1119.5,984.8 1126.0,984.9 C1132.5,985.0 1141.5,985.6 1149.2,986.4 C1156.9,987.2 1165.4,988.5 1172.4,989.5 C1179.4,990.5 1184.6,992.0 1191.0,992.6 C1197.4,993.2 1203.8,992.9 1211.0,992.9 C1218.2,992.9 1226.5,992.7 1234.3,992.6 C1242.0,992.5 1249.8,992.6 1257.5,992.3 C1265.2,992.0 1274.0,991.1 1280.7,990.8 C1287.5,990.5 1295.1,990.4 1298.0,990.3" stroke="#ffff00" stroke-width="2.1"/>
</g>
<line x1="856.20" y1="1044.60" x2="856.20" y2="1053.40" stroke="#000" stroke-width="2.1" stroke-linecap="butt"/>
<text transform="translate(834.82 1081.20) scale(0.94 1)" font-family="Liberation Sans" font-size="27.7" font-weight="bold">400</text>
<line x1="966.48" y1="1044.60" x2="966.48" y2="1053.40" stroke="#000" stroke-width="2.1" stroke-linecap="butt"/>
<text transform="translate(945.09 1081.20) scale(0.94 1)" font-family="Liberation Sans" font-size="27.7" font-weight="bold">450</text>
<line x1="1076.75" y1="1044.60" x2="1076.75" y2="1053.40" stroke="#000" stroke-width="2.1" stroke-linecap="butt"/>
<text transform="translate(1055.16 1081.20) scale(0.94 1)" font-family="Liberation Sans" font-size="27.7" font-weight="bold">500</text>
<line x1="1187.03" y1="1044.60" x2="1187.03" y2="1053.40" stroke="#000" stroke-width="2.1" stroke-linecap="butt"/>
<text transform="translate(1165.44 1081.20) scale(0.94 1)" font-family="Liberation Sans" font-size="27.7" font-weight="bold">550</text>
<line x1="1297.30" y1="1044.60" x2="1297.30" y2="1053.40" stroke="#000" stroke-width="2.1" stroke-linecap="butt"/>
<text transform="translate(1275.64 1081.20) scale(0.94 1)" font-family="Liberation Sans" font-size="27.7" font-weight="bold">600</text>
<line x1="801.06" y1="1044.60" x2="801.06" y2="1049.60" stroke="#000" stroke-width="2.1" stroke-linecap="butt"/>
<line x1="911.34" y1="1044.60" x2="911.34" y2="1049.60" stroke="#000" stroke-width="2.1" stroke-linecap="butt"/>
<line x1="1021.61" y1="1044.60" x2="1021.61" y2="1049.60" stroke="#000" stroke-width="2.1" stroke-linecap="butt"/>
<line x1="1131.89" y1="1044.60" x2="1131.89" y2="1049.60" stroke="#000" stroke-width="2.1" stroke-linecap="butt"/>
<line x1="1242.16" y1="1044.60" x2="1242.16" y2="1049.60" stroke="#000" stroke-width="2.1" stroke-linecap="butt"/>
<line x1="760.20" y1="1044.60" x2="767.40" y2="1044.60" stroke="#000" stroke-width="2.1" stroke-linecap="butt"/>
<text transform="translate(738.79 1052.60) scale(0.94 1)" font-family="Liberation Sans" font-size="27.7" font-weight="bold">0</text>
<line x1="760.20" y1="929.60" x2="767.40" y2="929.60" stroke="#000" stroke-width="2.1" stroke-linecap="butt"/>
<text transform="translate(709.82 937.60) scale(0.94 1)" font-family="Liberation Sans" font-size="27.7" font-weight="bold">200</text>
<line x1="760.20" y1="814.60" x2="767.40" y2="814.60" stroke="#000" stroke-width="2.1" stroke-linecap="butt"/>
<text transform="translate(709.82 822.60) scale(0.94 1)" font-family="Liberation Sans" font-size="27.7" font-weight="bold">400</text>
<line x1="760.20" y1="699.60" x2="767.40" y2="699.60" stroke="#000" stroke-width="2.1" stroke-linecap="butt"/>
<text transform="translate(709.82 707.60) scale(0.94 1)" font-family="Liberation Sans" font-size="27.7" font-weight="bold">600</text>
<line x1="760.20" y1="584.60" x2="767.40" y2="584.60" stroke="#000" stroke-width="2.1" stroke-linecap="butt"/>
<text transform="translate(709.82 592.60) scale(0.94 1)" font-family="Liberation Sans" font-size="27.7" font-weight="bold">800</text>
<line x1="763.40" y1="987.10" x2="767.40" y2="987.10" stroke="#000" stroke-width="2.1" stroke-linecap="butt"/>
<line x1="763.40" y1="872.10" x2="767.40" y2="872.10" stroke="#000" stroke-width="2.1" stroke-linecap="butt"/>
<line x1="763.40" y1="757.10" x2="767.40" y2="757.10" stroke="#000" stroke-width="2.1" stroke-linecap="butt"/>
<line x1="763.40" y1="642.10" x2="767.40" y2="642.10" stroke="#000" stroke-width="2.1" stroke-linecap="butt"/>
<rect x="798.7" y="584.6" width="369.0999999999999" height="62.799999999999955" fill="#fff" stroke="#808080" stroke-width="1.4"/>
<rect x="767.4" y="584.6" width="529.9" height="459.9999999999999" fill="none" stroke="#000" stroke-width="2.1"/>
<line x1="802.20" y1="600.60" x2="851.80" y2="600.60" stroke="#000000" stroke-width="2.5" stroke-linecap="butt"/>
<text transform="translate(857.29 608.70) scale(0.945 1)" font-family="Liberation Sans" font-size="23.8" font-weight="normal">T400;</text>
<line x1="920.60" y1="600.60" x2="969.90" y2="600.60" stroke="#ff0000" stroke-width="2.5" stroke-linecap="butt"/>
<text transform="translate(976.89 608.70) scale(0.945 1)" font-family="Liberation Sans" font-size="23.8" font-weight="normal">TAg1;</text>
<line x1="1042.20" y1="600.60" x2="1091.00" y2="600.60" stroke="#00ff00" stroke-width="2.5" stroke-linecap="butt"/>
<text transform="translate(1098.79 608.70) scale(0.945 1)" font-family="Liberation Sans" font-size="23.8" font-weight="normal">TAg2;</text>
<line x1="802.20" y1="631.00" x2="851.80" y2="631.00" stroke="#0000ff" stroke-width="2.5" stroke-linecap="butt"/>
<text transform="translate(858.49 638.80) scale(0.945 1)" font-family="Liberation Sans" font-size="23.8" font-weight="normal">TAg3;</text>
<line x1="922.60" y1="631.00" x2="972.20" y2="631.00" stroke="#ff00ff" stroke-width="2.5" stroke-linecap="butt"/>
<text transform="translate(979.79 638.80) scale(0.945 1)" font-family="Liberation Sans" font-size="23.8" font-weight="normal">TAg4;</text>
<line x1="1044.50" y1="631.00" x2="1093.80" y2="631.00" stroke="#ffff00" stroke-width="2.5" stroke-linecap="butt"/>
<text transform="translate(1101.09 638.80) scale(0.945 1)" font-family="Liberation Sans" font-size="23.8" font-weight="normal">TAg5;</text>
<text transform="translate(923.17 1127.50) scale(0.96 1)" font-family="Liberation Sans" font-size="27.4" font-weight="bold">Wavelength (nm)</text>
<text transform="translate(689.70 786.40) scale(0.94 1) rotate(-90)" font-family="Liberation Sans" font-size="30.4" font-weight="bold" text-anchor="middle">Intensity (a.u.)</text>
<text transform="translate(798.11 1012.80) scale(1.0 1)" font-family="Liberation Serif" font-size="40.8" font-weight="bold">(d)</text>
<text transform="translate(1152.33 951.00) scale(1.15 1)" font-family="Liberation Serif" font-size="22.5" font-weight="normal" font-style="italic">λ</text>
<text transform="translate(1162.68 957.60) scale(0.83 1)" font-family="Liberation Sans" font-size="17.5" font-weight="normal">ex</text>
<text transform="translate(1179.23 951.00) scale(0.925 1)" font-family="Liberation Sans" font-size="23.8" font-weight="normal">=340 nm</text>
</svg>
</body></html>
